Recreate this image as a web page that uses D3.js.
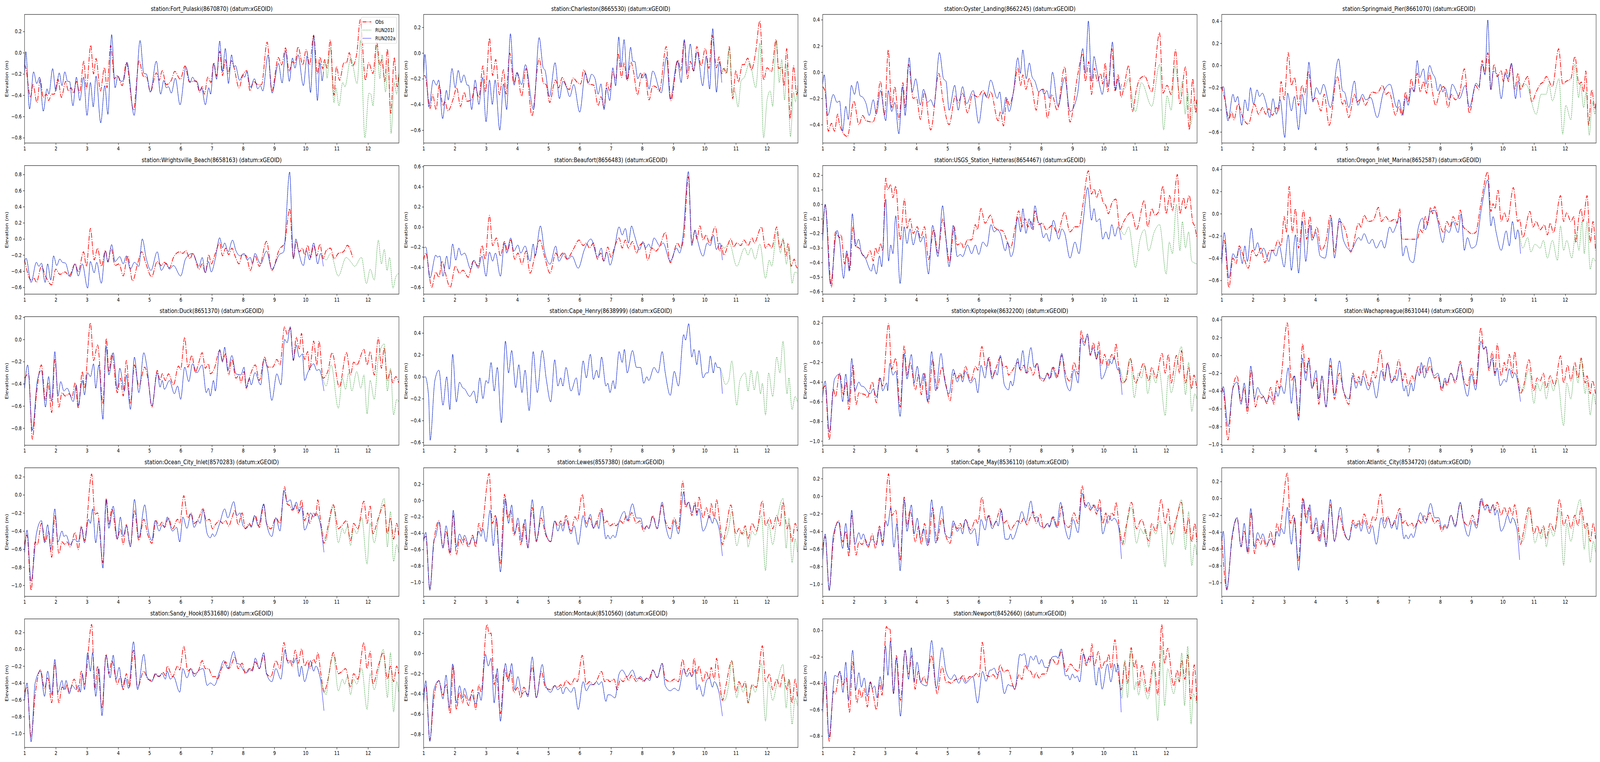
<!DOCTYPE html>
<html>
<head>
<meta charset="utf-8">
<script src="https://cdn.jsdelivr.net/npm/d3@7"></script>
<style>
  html, body { margin: 0; padding: 0; background: #fff; overflow: hidden; }
  #chart { display: block; width: 100vw; height: 100vh; }
  text { font-family: "DejaVu Sans", sans-serif; }
</style>
</head>
<body>
<svg id="chart" viewBox="0 0 5150 1950" preserveAspectRatio="none"></svg>
<script>
// ---- data: [day, elevation m] (peaks and troughs) ----
const fpObs = [[1.0,-0.11],[1.04,-0.145],[1.19,-0.42],[1.27,-0.30],[1.40,-0.47],[1.50,-0.25],[1.60,-0.42],[1.70,-0.39],[1.77,-0.45],[1.87,-0.39],[1.95,-0.39],[2.07,-0.25],[2.18,-0.42],[2.32,-0.27],[2.40,-0.36],[2.49,-0.33],[2.57,-0.38],[2.66,-0.27],[2.76,-0.375],[2.90,-0.08],[2.98,-0.34],[3.12,0.07],[3.21,-0.20],[3.29,-0.055],[3.43,-0.36],[3.56,-0.14],[3.64,-0.33],[3.76,0.07],[3.88,-0.245],[3.97,-0.215],[4.13,-0.31],[4.26,-0.095],[4.49,-0.54],[4.67,-0.075],[4.80,-0.22],[4.91,-0.23],[5.03,-0.37],[5.22,-0.19],[5.31,-0.26],[5.41,-0.17],[5.54,-0.30],[5.70,-0.26],[5.81,-0.175],[5.99,-0.25],[6.14,-0.125],[6.28,-0.275],[6.49,-0.265],[6.61,-0.37],[6.69,-0.32],[6.76,-0.39],[6.87,-0.23],[6.97,-0.28],[7.06,-0.095],[7.15,-0.22],[7.25,0.015],[7.34,-0.215],[7.43,-0.065],[7.52,-0.195],[7.62,-0.075],[7.70,-0.13],[7.87,-0.33],[7.99,-0.21],[8.12,-0.17],[8.22,-0.36],[8.34,-0.27],[8.47,-0.30],[8.59,-0.30],[8.77,0.10],[8.92,-0.36],[9.13,-0.045],[9.23,-0.115],[9.36,0.045],[9.47,-0.175],[9.58,-0.085],[9.66,-0.10],[9.76,0.055],[9.91,-0.115],[10.02,0.03],[10.13,-0.115],[10.26,0.165],[10.38,-0.20],[10.46,-0.04],[10.55,-0.15],[10.61,-0.065],[10.69,-0.145],[10.79,0.12],[10.91,-0.40],[10.99,-0.13],[11.09,-0.26],[11.23,-0.095],[11.31,-0.095],[11.40,0.0],[11.50,-0.125],[11.64,-0.01],[11.75,0.31],[11.92,-0.26],[12.02,-0.095],[12.16,-0.195],[12.28,0.10],[12.38,-0.12],[12.44,-0.065],[12.54,-0.27],[12.62,0.035],[12.73,-0.57],[12.84,-0.045],[12.93,-0.32],[12.99,-0.195]];
const fpRun202a = [[1.0,-0.19],[1.04,0.01],[1.16,-0.53],[1.29,-0.18],[1.39,-0.29],[1.48,-0.23],[1.60,-0.55],[1.72,-0.34],[1.78,-0.39],[1.90,-0.15],[2.0,-0.36],[2.11,-0.19],[2.20,-0.31],[2.29,-0.18],[2.38,-0.27],[2.44,-0.27],[2.55,-0.50],[2.66,-0.23],[2.77,-0.45],[2.89,-0.23],[3.00,-0.59],[3.11,-0.28],[3.20,-0.51],[3.29,-0.22],[3.44,-0.66],[3.57,-0.31],[3.67,-0.58],[3.79,0.17],[3.90,-0.33],[3.99,-0.22],[4.09,-0.27],[4.17,-0.26],[4.28,-0.09],[4.51,-0.59],[4.70,0.115],[4.82,-0.195],[4.90,-0.20],[5.03,-0.37],[5.22,-0.08],[5.36,-0.39],[5.46,-0.26],[5.54,-0.33],[5.61,-0.32],[5.70,-0.38],[5.83,-0.24],[5.98,-0.49],[6.17,-0.135],[6.30,-0.28],[6.38,-0.23],[6.47,-0.27],[6.53,-0.275],[6.61,-0.36],[6.67,-0.33],[6.79,-0.49],[6.90,-0.33],[6.96,-0.39],[7.06,-0.10],[7.15,-0.25],[7.25,0.11],[7.34,-0.18],[7.43,0.04],[7.53,-0.29],[7.63,-0.02],[7.71,-0.135],[7.75,-0.12],[7.89,-0.26],[7.99,-0.21],[8.05,-0.23],[8.12,-0.18],[8.24,-0.325],[8.36,-0.245],[8.47,-0.34],[8.55,-0.31],[8.63,-0.36],[8.80,-0.02],[8.93,-0.38],[9.13,-0.10],[9.25,-0.285],[9.36,0.02],[9.48,-0.27],[9.58,-0.05],[9.66,-0.145],[9.76,-0.02],[9.93,-0.31],[10.05,-0.03],[10.16,-0.375],[10.26,0.16],[10.38,-0.45],[10.46,-0.095],[10.53,-0.265],[10.57,-0.18]];
const fpTail201l = [[10.63,-0.08],[10.69,-0.24],[10.79,0.05],[10.91,-0.47],[10.97,-0.33],[11.07,-0.50],[11.19,-0.28],[11.26,-0.32],[11.45,-0.05],[11.65,-0.29],[11.76,0.115],[11.90,-0.80],[12.03,-0.38],[12.09,-0.39],[12.16,-0.50],[12.28,0.07],[12.38,-0.245],[12.45,-0.02],[12.56,-0.37],[12.65,-0.08],[12.74,-0.76],[12.84,-0.28],[12.92,-0.39],[12.99,-0.19]];

const chObs = [[1.0,-0.18],[1.04,-0.175],[1.21,-0.43],[1.29,-0.325],[1.40,-0.44],[1.50,-0.25],[1.62,-0.41],[1.68,-0.375],[1.78,-0.45],[1.95,-0.355],[2.06,-0.27],[2.18,-0.415],[2.30,-0.305],[2.39,-0.375],[2.53,-0.365],[2.65,-0.265],[2.77,-0.345],[2.90,-0.10],[2.98,-0.305],[3.11,0.115],[3.21,-0.175],[3.31,-0.05],[3.43,-0.325],[3.56,-0.13],[3.64,-0.32],[3.76,0.0],[3.89,-0.235],[3.99,-0.155],[4.14,-0.335],[4.28,-0.12],[4.47,-0.49],[4.70,-0.045],[4.84,-0.235],[4.92,-0.245],[5.04,-0.385],[5.17,-0.245],[5.22,-0.21],[5.33,-0.27],[5.44,-0.19],[5.58,-0.26],[5.66,-0.285],[5.79,-0.195],[5.93,-0.23],[6.03,-0.24],[6.13,-0.13],[6.28,-0.24],[6.45,-0.25],[6.59,-0.41],[6.68,-0.34],[6.78,-0.425],[6.87,-0.23],[6.96,-0.295],[7.06,-0.15],[7.15,-0.21],[7.23,-0.005],[7.34,-0.19],[7.42,-0.075],[7.52,-0.215],[7.64,-0.07],[7.72,-0.14],[7.85,-0.325],[7.95,-0.205],[8.08,-0.155],[8.22,-0.365],[8.34,-0.255],[8.47,-0.27],[8.55,-0.295],[8.77,0.05],[8.92,-0.37],[9.15,-0.055],[9.23,-0.14],[9.35,0.095],[9.45,-0.20],[9.54,-0.065],[9.65,-0.14],[9.75,0.05],[9.89,-0.10],[10.02,0.035],[10.14,-0.12],[10.24,0.14],[10.38,-0.115],[10.46,-0.03],[10.55,-0.16],[10.61,-0.12],[10.70,-0.16],[10.79,0.05],[10.90,-0.355],[11.00,-0.135],[11.08,-0.225],[11.21,-0.09],[11.27,-0.09],[11.38,-0.04],[11.50,-0.13],[11.63,0.0],[11.77,0.25],[11.89,-0.21],[12.00,-0.115],[12.14,-0.145],[12.29,0.105],[12.37,-0.12],[12.47,-0.11],[12.54,-0.255],[12.63,0.035],[12.74,-0.51],[12.85,-0.10],[12.95,-0.325],[12.98,-0.285]];
const chRun202a = [[1.0,-0.17],[1.04,-0.01],[1.17,-0.42],[1.31,-0.21],[1.41,-0.25],[1.48,-0.21],[1.61,-0.51],[1.73,-0.29],[1.79,-0.365],[1.91,-0.12],[2.01,-0.27],[2.11,-0.135],[2.20,-0.23],[2.29,-0.17],[2.40,-0.25],[2.44,-0.25],[2.54,-0.44],[2.65,-0.21],[2.77,-0.40],[2.89,-0.19],[3.00,-0.535],[3.11,-0.21],[3.20,-0.40],[3.29,-0.21],[3.44,-0.60],[3.56,-0.24],[3.66,-0.44],[3.78,0.15],[3.90,-0.25],[3.99,-0.15],[4.14,-0.245],[4.26,-0.09],[4.52,-0.44],[4.70,0.12],[4.83,-0.115],[4.89,-0.135],[5.03,-0.34],[5.21,-0.075],[5.35,-0.355],[5.46,-0.22],[5.58,-0.27],[5.68,-0.34],[5.81,-0.245],[6.00,-0.46],[6.18,-0.155],[6.28,-0.23],[6.38,-0.165],[6.49,-0.20],[6.59,-0.32],[6.68,-0.24],[6.78,-0.44],[6.86,-0.27],[6.96,-0.37],[7.06,-0.115],[7.15,-0.255],[7.25,0.125],[7.33,-0.11],[7.42,0.105],[7.52,-0.205],[7.63,0.045],[7.70,-0.065],[7.76,-0.065],[7.86,-0.20],[7.95,-0.155],[8.01,-0.195],[8.11,-0.16],[8.22,-0.28],[8.34,-0.14],[8.61,-0.31],[8.78,-0.03],[8.90,-0.36],[9.13,-0.06],[9.25,-0.23],[9.35,0.105],[9.43,-0.155],[9.54,0.07],[9.65,-0.14],[9.76,0.01],[9.94,-0.255],[10.05,-0.025],[10.16,-0.28],[10.26,0.19],[10.38,-0.305],[10.47,-0.07],[10.55,-0.23]];
const chTail201l = [[10.59,-0.14],[10.64,-0.115],[10.70,-0.155],[10.79,0.035],[10.90,-0.325],[10.97,-0.295],[11.07,-0.42],[11.17,-0.215],[11.27,-0.19],[11.44,-0.075],[11.64,-0.27],[11.77,0.075],[11.89,-0.66],[12.00,-0.365],[12.10,-0.295],[12.18,-0.415],[12.29,0.095],[12.39,-0.23],[12.47,-0.05],[12.56,-0.365],[12.64,-0.09],[12.75,-0.65],[12.85,-0.305],[12.91,-0.38],[12.98,-0.25]];

const olObs = [[1.0,-0.11],[1.08,-0.15],[1.18,-0.45],[1.28,-0.39],[1.38,-0.45],[1.48,-0.32],[1.54,-0.40],[1.79,-0.49],[2.00,-0.22],[2.16,-0.40],[2.28,-0.33],[2.39,-0.37],[2.61,-0.38],[2.72,-0.29],[2.85,-0.07],[2.98,-0.33],[3.10,0.17],[3.21,-0.27],[3.31,-0.11],[3.44,-0.36],[3.57,-0.08],[3.64,-0.27],[3.75,0.06],[3.90,-0.20],[4.00,-0.19],[4.13,-0.36],[4.26,-0.15],[4.46,-0.44],[4.72,-0.01],[4.85,-0.21],[5.05,-0.40],[5.25,-0.18],[5.34,-0.23],[5.48,-0.16],[5.64,-0.31],[5.80,-0.17],[5.97,-0.19],[6.13,-0.14],[6.30,-0.20],[6.38,-0.15],[6.62,-0.37],[6.69,-0.30],[6.79,-0.41],[6.90,-0.20],[6.98,-0.25],[7.11,-0.15],[7.25,0.03],[7.34,-0.10],[7.41,-0.02],[7.51,-0.13],[7.61,-0.05],[7.70,-0.11],[7.84,-0.29],[7.93,-0.15],[8.07,-0.13],[8.20,-0.35],[8.34,-0.17],[8.51,-0.29],[8.75,0.04],[8.92,-0.38],[9.16,-0.03],[9.33,0.14],[9.41,-0.07],[9.52,0.08],[9.61,-0.17],[9.70,0.03],[9.80,-0.07],[9.90,-0.01],[9.97,-0.09],[10.05,0.07],[10.13,-0.15],[10.26,0.18],[10.36,-0.14],[10.46,-0.02],[10.56,-0.19],[10.66,-0.10],[10.80,0.05],[10.92,-0.30],[11.05,-0.13],[11.16,-0.05],[11.31,-0.03],[11.54,-0.15],[11.79,0.30],[11.90,-0.16],[12.03,-0.10],[12.16,-0.17],[12.30,0.17],[12.44,-0.24],[12.62,0.04],[12.74,-0.44],[12.85,-0.05],[12.95,-0.31],[12.98,-0.21]];
const olRun202a = [[1.0,-0.09],[1.05,-0.02],[1.16,-0.33],[1.34,-0.17],[1.46,-0.23],[1.54,-0.22],[1.64,-0.45],[1.74,-0.26],[1.82,-0.36],[1.92,-0.10],[2.02,-0.17],[2.11,-0.07],[2.20,-0.18],[2.28,-0.19],[2.39,-0.24],[2.49,-0.33],[2.62,-0.21],[2.72,-0.32],[2.85,-0.14],[3.02,-0.37],[3.10,-0.14],[3.21,-0.30],[3.31,-0.23],[3.44,-0.47],[3.56,-0.11],[3.64,-0.33],[3.77,0.11],[3.87,-0.15],[3.98,-0.05],[4.13,-0.25],[4.23,-0.13],[4.36,-0.23],[4.46,-0.21],[4.56,-0.26],[4.74,0.15],[4.87,-0.05],[4.95,-0.07],[5.05,-0.29],[5.23,-0.10],[5.34,-0.29],[5.48,-0.11],[5.61,-0.24],[5.82,-0.14],[6.00,-0.39],[6.16,-0.16],[6.25,-0.19],[6.38,-0.06],[6.59,-0.20],[6.67,-0.15],[6.77,-0.32],[6.87,-0.19],[6.97,-0.30],[7.11,-0.15],[7.25,0.11],[7.33,-0.01],[7.41,0.17],[7.52,-0.05],[7.62,0.07],[7.70,-0.03],[7.80,-0.07],[7.92,-0.15],[8.02,-0.13],[8.10,-0.17],[8.18,-0.14],[8.26,-0.20],[8.36,0.0],[8.54,-0.26],[8.75,-0.04],[8.92,-0.30],[9.16,-0.17],[9.33,0.18],[9.41,-0.01],[9.51,0.39],[9.61,-0.07],[9.69,0.12],[9.77,0.03],[9.90,-0.13],[9.95,-0.17],[10.07,-0.03],[10.15,-0.11],[10.28,0.23],[10.38,-0.14],[10.46,-0.05],[10.52,-0.13],[10.57,-0.09]];
const olTail201l = [[10.66,-0.13],[10.79,-0.05],[11.02,-0.30],[11.21,-0.08],[11.54,-0.26],[11.79,0.06],[11.92,-0.44],[12.03,-0.18],[12.16,-0.29],[12.28,0.05],[12.44,-0.17],[12.52,-0.07],[12.61,-0.32],[12.69,-0.15],[12.79,-0.40],[12.89,-0.21],[12.98,-0.25]];

const spObs = [[1.0,-0.19],[1.10,-0.31],[1.23,-0.48],[1.33,-0.42],[1.39,-0.49],[1.52,-0.35],[1.69,-0.48],[1.85,-0.53],[2.05,-0.35],[2.18,-0.44],[2.31,-0.38],[2.41,-0.44],[2.51,-0.39],[2.62,-0.45],[2.75,-0.38],[2.82,-0.41],[2.90,-0.145],[3.00,-0.31],[3.13,0.115],[3.23,-0.18],[3.33,-0.11],[3.46,-0.36],[3.57,-0.18],[3.66,-0.26],[3.77,-0.05],[3.92,-0.31],[4.02,-0.29],[4.18,-0.41],[4.28,-0.26],[4.44,-0.54],[4.70,-0.10],[4.87,-0.35],[4.93,-0.31],[5.07,-0.47],[5.25,-0.26],[5.33,-0.33],[5.49,-0.29],[5.59,-0.36],[5.82,-0.24],[5.98,-0.25],[6.15,-0.18],[6.26,-0.26],[6.36,-0.24],[6.57,-0.45],[6.67,-0.37],[6.77,-0.45],[6.89,-0.24],[6.97,-0.33],[7.07,-0.12],[7.16,-0.23],[7.26,-0.07],[7.36,-0.24],[7.46,-0.145],[7.56,-0.25],[7.66,-0.07],[7.75,-0.24],[7.85,-0.36],[7.98,-0.24],[8.11,-0.19],[8.25,-0.38],[8.36,-0.26],[8.48,-0.31],[8.61,-0.26],[8.77,-0.03],[8.93,-0.43],[9.13,-0.18],[9.23,-0.22],[9.34,0.045],[9.43,-0.07],[9.52,0.115],[9.62,-0.22],[9.72,0.01],[9.82,-0.10],[9.95,-0.05],[10.02,-0.145],[10.11,-0.03],[10.18,-0.145],[10.28,0.01],[10.38,-0.22],[10.49,-0.07],[10.57,-0.22],[10.66,-0.17],[10.80,-0.10],[10.93,-0.33],[11.07,-0.24],[11.20,-0.17],[11.31,-0.145],[11.39,-0.10],[11.59,-0.19],[11.79,0.15],[11.92,-0.17],[12.02,-0.145],[12.18,-0.12],[12.31,0.08],[12.44,-0.17],[12.52,-0.15],[12.59,-0.24],[12.66,-0.05],[12.75,-0.54],[12.85,-0.22],[12.95,-0.39],[12.98,-0.33]];
const spRun202a = [[1.0,-0.22],[1.05,-0.19],[1.20,-0.50],[1.36,-0.26],[1.43,-0.33],[1.51,-0.28],[1.64,-0.54],[1.74,-0.31],[1.84,-0.41],[1.92,-0.20],[2.02,-0.35],[2.13,-0.22],[2.21,-0.28],[2.30,-0.25],[2.41,-0.33],[2.54,-0.47],[2.64,-0.30],[2.75,-0.44],[2.87,-0.31],[3.02,-0.65],[3.11,-0.25],[3.23,-0.41],[3.33,-0.28],[3.46,-0.58],[3.57,-0.26],[3.69,-0.44],[3.79,0.03],[3.92,-0.33],[4.03,-0.20],[4.15,-0.26],[4.26,-0.17],[4.48,-0.38],[4.74,0.06],[4.87,-0.23],[4.93,-0.24],[5.07,-0.38],[5.25,-0.14],[5.36,-0.36],[5.51,-0.26],[5.61,-0.31],[5.77,-0.29],[5.98,-0.47],[6.18,-0.24],[6.39,-0.17],[6.61,-0.38],[6.67,-0.31],[6.80,-0.45],[6.89,-0.28],[6.97,-0.36],[7.08,-0.20],[7.16,-0.24],[7.26,0.045],[7.34,-0.11],[7.46,-0.03],[7.54,-0.17],[7.66,0.0],[7.75,-0.07],[7.84,-0.12],[7.92,-0.23],[8.00,-0.17],[8.08,-0.24],[8.15,-0.20],[8.28,-0.31],[8.38,-0.17],[8.52,-0.24],[8.61,-0.30],[8.80,-0.18],[8.93,-0.38],[9.15,-0.16],[9.23,-0.19],[9.34,0.01],[9.43,-0.085],[9.52,0.41],[9.62,-0.22],[9.70,-0.05],[9.79,-0.07],[9.84,-0.09],[9.95,-0.30],[10.08,-0.07],[10.16,-0.12],[10.28,0.02],[10.41,-0.30],[10.49,-0.14],[10.57,-0.29]];
const spTail201l = [[10.64,-0.19],[10.74,-0.17],[11.07,-0.44],[11.23,-0.26],[11.39,-0.26],[11.48,-0.17],[11.59,-0.32],[11.80,-0.12],[11.92,-0.62],[12.02,-0.36],[12.18,-0.49],[12.31,0.01],[12.43,-0.29],[12.49,-0.17],[12.59,-0.38],[12.67,-0.24],[12.77,-0.63],[12.87,-0.33],[12.95,-0.44],[12.98,-0.36]];

const wbObs = [[1.0,-0.26],[1.21,-0.51],[1.31,-0.49],[1.38,-0.54],[1.54,-0.34],[1.67,-0.46],[1.87,-0.57],[2.00,-0.375],[2.13,-0.44],[2.30,-0.41],[2.43,-0.46],[2.62,-0.31],[2.72,-0.41],[2.89,-0.16],[2.98,-0.34],[3.11,0.13],[3.23,-0.26],[3.34,-0.115],[3.46,-0.34],[3.59,-0.145],[3.67,-0.28],[3.77,-0.115],[3.90,-0.33],[4.03,-0.31],[4.16,-0.46],[4.30,-0.21],[4.46,-0.52],[4.62,-0.31],[4.75,-0.16],[4.89,-0.31],[5.07,-0.47],[5.25,-0.28],[5.38,-0.33],[5.48,-0.29],[5.64,-0.36],[5.77,-0.23],[5.97,-0.16],[6.07,-0.18],[6.16,-0.145],[6.30,-0.245],[6.39,-0.18],[6.59,-0.375],[6.69,-0.31],[6.79,-0.42],[6.90,-0.195],[6.98,-0.31],[7.11,-0.18],[7.25,-0.05],[7.34,-0.21],[7.44,-0.115],[7.54,-0.195],[7.64,-0.115],[7.74,-0.21],[7.87,-0.31],[7.97,-0.195],[8.10,-0.21],[8.23,-0.39],[8.38,-0.21],[8.52,-0.34],[8.75,-0.03],[8.92,-0.39],[9.16,-0.13],[9.33,-0.05],[9.49,0.375],[9.61,-0.245],[9.70,-0.03],[9.80,-0.16],[9.90,-0.115],[9.97,-0.195],[10.07,-0.08],[10.16,-0.23],[10.26,-0.08],[10.36,-0.21],[10.46,-0.065],[10.56,-0.245],[10.66,-0.145],[10.80,-0.115],[10.92,-0.245],[11.05,-0.18],[11.21,-0.16],[11.34,-0.08],[11.51,-0.23]];
const wbRun202a = [[1.0,-0.28],[1.05,-0.24],[1.21,-0.54],[1.38,-0.29],[1.46,-0.34],[1.54,-0.30],[1.66,-0.54],[1.74,-0.31],[1.84,-0.51],[1.93,-0.21],[2.03,-0.33],[2.13,-0.25],[2.21,-0.29],[2.31,-0.30],[2.46,-0.47],[2.62,-0.31],[2.72,-0.46],[2.85,-0.31],[3.02,-0.61],[3.11,-0.28],[3.23,-0.42],[3.31,-0.29],[3.46,-0.55],[3.59,-0.15],[3.67,-0.29],[3.79,-0.07],[3.90,-0.28],[4.05,-0.22],[4.16,-0.31],[4.26,-0.21],[4.39,-0.375],[4.52,-0.29],[4.66,-0.34],[4.77,0.0],[4.90,-0.245],[5.05,-0.39],[5.25,-0.16],[5.38,-0.39],[5.54,-0.30],[5.64,-0.375],[5.77,-0.33],[6.00,-0.46],[6.16,-0.245],[6.38,-0.18],[6.59,-0.34],[6.69,-0.23],[6.79,-0.42],[6.89,-0.28],[6.98,-0.41],[7.11,-0.245],[7.25,0.015],[7.34,-0.11],[7.41,-0.05],[7.52,-0.16],[7.66,-0.015],[7.77,-0.145],[7.90,-0.21],[8.03,-0.18],[8.13,-0.26],[8.23,-0.23],[8.30,-0.31],[8.38,-0.18],[8.56,-0.31],[8.75,-0.15],[8.92,-0.375],[9.16,-0.195],[9.30,-0.16],[9.49,0.83],[9.61,-0.245],[9.69,0.0],[9.77,-0.145],[9.93,-0.33],[10.03,-0.145],[10.13,-0.26],[10.26,-0.05],[10.39,-0.31],[10.48,-0.18],[10.57,-0.34]];
const wbTail201l = [[10.66,-0.26],[10.80,-0.18],[11.05,-0.46],[11.30,-0.23],[11.46,-0.29],[11.57,-0.34],[11.79,-0.23],[11.95,-0.555],[12.07,-0.375],[12.20,-0.51],[12.33,-0.015],[12.43,-0.31],[12.52,-0.13],[12.61,-0.39],[12.69,-0.23],[12.80,-0.61],[12.89,-0.47],[12.98,-0.43]];

const bfObs = [[1.0,-0.33],[1.07,-0.26],[1.26,-0.60],[1.39,-0.45],[1.49,-0.50],[1.59,-0.34],[1.69,-0.45],[1.85,-0.60],[2.02,-0.39],[2.15,-0.46],[2.26,-0.43],[2.43,-0.50],[2.59,-0.34],[2.75,-0.39],[2.87,-0.185],[2.97,-0.32],[3.11,0.115],[3.21,-0.185],[3.33,-0.11],[3.46,-0.29],[3.59,-0.145],[3.69,-0.24],[3.79,-0.13],[3.92,-0.32],[4.02,-0.26],[4.15,-0.37],[4.28,-0.24],[4.41,-0.46],[4.57,-0.28],[4.72,-0.13],[4.87,-0.29],[5.05,-0.46],[5.23,-0.26],[5.33,-0.30],[5.46,-0.26],[5.59,-0.32],[5.79,-0.225],[5.98,-0.13],[6.11,-0.185],[6.21,-0.16],[6.31,-0.21],[6.44,-0.16],[6.57,-0.32],[6.67,-0.26],[6.77,-0.34],[6.90,-0.20],[7.00,-0.30],[7.13,-0.185],[7.26,-0.11],[7.36,-0.21],[7.46,-0.13],[7.56,-0.21],[7.69,-0.145],[7.82,-0.26],[7.92,-0.185],[8.05,-0.16],[8.18,-0.33],[8.31,-0.21],[8.44,-0.24],[8.57,-0.185],[8.74,-0.055],[8.90,-0.355],[9.13,-0.16],[9.23,-0.21],[9.33,-0.11],[9.48,0.50],[9.59,-0.16],[9.69,-0.04],[9.75,-0.12],[9.85,0.01],[9.95,-0.13],[10.05,-0.08],[10.15,-0.16],[10.34,0.0],[10.48,-0.24],[10.54,-0.185],[10.61,-0.28],[10.84,-0.12],[10.93,-0.20],[11.03,-0.16],[11.16,-0.185],[11.26,-0.13],[11.39,-0.185],[11.52,-0.11],[11.59,-0.16],[11.82,0.0],[11.95,-0.21],[12.05,-0.17],[12.15,-0.21],[12.31,0.0],[12.41,-0.21],[12.51,-0.13],[12.61,-0.29],[12.67,-0.16],[12.77,-0.39],[12.87,-0.32],[12.93,-0.39],[12.97,-0.41]];
const bfRun202a = [[1.0,-0.21],[1.07,-0.20],[1.20,-0.51],[1.39,-0.28],[1.44,-0.30],[1.52,-0.29],[1.62,-0.49],[1.74,-0.29],[1.82,-0.42],[1.93,-0.17],[2.03,-0.33],[2.13,-0.21],[2.21,-0.28],[2.31,-0.26],[2.51,-0.42],[2.61,-0.33],[2.75,-0.41],[2.87,-0.29],[3.00,-0.49],[3.11,-0.25],[3.21,-0.34],[3.30,-0.26],[3.46,-0.49],[3.59,-0.16],[3.66,-0.26],[3.79,-0.11],[3.89,-0.24],[4.02,-0.18],[4.11,-0.26],[4.25,-0.19],[4.41,-0.34],[4.51,-0.17],[4.57,-0.29],[4.74,0.01],[4.87,-0.24],[5.05,-0.37],[5.23,-0.19],[5.33,-0.34],[5.51,-0.26],[5.62,-0.32],[5.75,-0.29],[5.95,-0.41],[6.15,-0.225],[6.36,-0.12],[6.57,-0.30],[6.69,-0.21],[6.77,-0.34],[6.87,-0.25],[6.97,-0.38],[7.10,-0.24],[7.26,0.0],[7.36,-0.08],[7.46,-0.015],[7.56,-0.16],[7.66,0.01],[7.75,-0.08],[7.92,-0.225],[8.02,-0.145],[8.11,-0.21],[8.21,-0.17],[8.28,-0.21],[8.38,-0.11],[8.57,-0.19],[8.67,-0.16],[8.90,-0.34],[9.10,-0.21],[9.20,-0.26],[9.31,-0.08],[9.48,0.55],[9.59,-0.185],[9.69,-0.03],[9.77,-0.13],[9.95,-0.29],[10.08,-0.16],[10.18,-0.185],[10.28,-0.08],[10.38,-0.225],[10.48,-0.16],[10.57,-0.33]];
const bfTail201l = [[10.64,-0.21],[10.79,-0.16],[11.03,-0.39],[11.28,-0.21],[11.39,-0.28],[11.49,-0.21],[11.62,-0.32],[11.77,-0.17],[11.95,-0.51],[12.07,-0.33],[12.15,-0.39],[12.31,-0.055],[12.43,-0.26],[12.51,-0.11],[12.62,-0.37],[12.70,-0.21],[12.80,-0.56],[12.89,-0.45],[12.97,-0.46]];

const htObs = [[1.0,-0.20],[1.08,-0.005],[1.28,-0.57],[1.41,-0.19],[1.54,-0.23],[1.59,-0.21],[1.70,-0.41],[1.79,-0.34],[1.87,-0.45],[1.97,-0.155],[2.07,-0.29],[2.16,-0.30],[2.30,-0.355],[2.39,-0.37],[2.52,-0.32],[2.62,-0.39],[2.69,-0.30],[2.77,-0.34],[2.85,-0.27],[2.92,-0.32],[3.02,0.18],[3.08,0.10],[3.18,0.135],[3.25,0.045],[3.34,0.125],[3.48,-0.245],[3.62,0.035],[3.70,-0.165],[3.80,-0.10],[3.90,-0.20],[4.03,-0.155],[4.13,-0.235],[4.26,-0.155],[4.39,-0.38],[4.56,-0.175],[4.69,-0.335],[4.85,-0.10],[4.95,-0.245],[5.07,-0.40],[5.21,-0.155],[5.31,-0.28],[5.44,-0.265],[5.51,-0.30],[5.64,-0.245],[5.77,-0.245],[5.89,-0.14],[5.95,-0.175],[6.07,-0.03],[6.20,-0.13],[6.38,-0.075],[6.49,-0.155],[6.62,-0.175],[6.75,-0.18],[7.02,-0.30],[7.15,-0.175],[7.28,-0.045],[7.38,-0.155],[7.48,-0.10],[7.57,-0.155],[7.67,-0.12],[7.74,-0.175],[7.80,-0.045],[7.93,-0.14],[8.03,-0.13],[8.16,-0.175],[8.36,-0.145],[8.52,-0.20],[8.75,-0.055],[8.92,-0.19],[9.08,-0.155],[9.21,-0.155],[9.33,-0.01],[9.51,0.23],[9.61,0.07],[9.70,0.105],[9.77,0.045],[9.87,0.10],[9.98,0.015],[10.07,-0.01],[10.15,-0.065],[10.26,0.007],[10.39,0.035],[10.52,-0.175],[10.64,-0.12],[10.89,-0.055],[11.05,-0.175],[11.30,0.025],[11.41,-0.155],[11.54,-0.03],[11.64,-0.075],[11.75,-0.055],[11.90,0.125],[12.00,-0.065],[12.11,0.06],[12.20,-0.045],[12.36,0.205],[12.44,-0.065],[12.56,0.045],[12.62,-0.03],[12.74,0.06],[12.85,-0.12],[12.92,-0.155],[12.98,-0.23]];
const htRun202a = [[1.0,-0.25],[1.08,0.0],[1.25,-0.55],[1.46,-0.18],[1.54,-0.25],[1.67,-0.51],[1.77,-0.32],[1.85,-0.46],[1.95,-0.065],[2.05,-0.29],[2.15,-0.24],[2.25,-0.34],[2.33,-0.355],[2.56,-0.46],[2.62,-0.41],[2.72,-0.48],[2.82,-0.355],[2.89,-0.43],[3.02,0.035],[3.11,-0.39],[3.18,-0.28],[3.25,-0.34],[3.34,-0.08],[3.48,-0.545],[3.61,-0.155],[3.70,-0.27],[3.80,-0.17],[3.90,-0.28],[4.03,-0.18],[4.13,-0.26],[4.23,-0.22],[4.39,-0.48],[4.52,-0.145],[4.69,-0.36],[4.84,-0.01],[4.92,-0.17],[5.05,-0.43],[5.18,-0.145],[5.31,-0.36],[5.41,-0.345],[5.48,-0.36],[5.64,-0.28],[5.77,-0.34],[5.89,-0.28],[6.00,-0.345],[6.13,-0.26],[6.26,-0.29],[6.39,-0.14],[6.49,-0.19],[6.59,-0.175],[6.69,-0.20],[6.85,-0.32],[6.92,-0.26],[7.03,-0.36],[7.11,-0.32],[7.25,-0.09],[7.34,-0.19],[7.41,-0.03],[7.51,-0.20],[7.61,-0.10],[7.70,-0.17],[7.80,-0.01],[7.90,-0.12],[7.97,-0.14],[8.07,-0.23],[8.16,-0.20],[8.26,-0.255],[8.39,-0.11],[8.56,-0.24],[8.66,-0.17],[8.75,-0.20],[8.92,-0.37],[9.08,-0.26],[9.21,-0.34],[9.33,-0.14],[9.49,0.115],[9.61,-0.11],[9.69,-0.03],[9.77,-0.12],[9.87,-0.10],[9.97,-0.24],[10.07,-0.19],[10.16,-0.24],[10.26,-0.14],[10.36,-0.22],[10.46,-0.155],[10.56,-0.245]];
const htTail201l = [[10.66,-0.21],[10.80,-0.155],[11.02,-0.435],[11.16,-0.245],[11.31,-0.175],[11.44,-0.32],[11.62,-0.19],[11.79,-0.14],[12.00,-0.48],[12.10,-0.26],[12.20,-0.34],[12.33,0.0],[12.44,-0.32],[12.52,-0.12],[12.62,-0.30],[12.72,-0.19],[12.82,-0.39],[12.98,-0.41]];

const oiObs = [[1.0,-0.40],[1.08,-0.24],[1.23,-0.665],[1.36,-0.40],[1.46,-0.45],[1.56,-0.29],[1.69,-0.38],[1.85,-0.49],[1.98,-0.33],[2.11,-0.38],[2.25,-0.31],[2.38,-0.44],[2.54,-0.33],[2.67,-0.33],[2.80,-0.24],[2.90,-0.29],[3.00,-0.026],[3.07,-0.17],[3.16,0.245],[3.26,-0.17],[3.36,0.045],[3.46,-0.31],[3.62,0.03],[3.72,-0.23],[3.82,-0.026],[3.92,-0.215],[4.05,-0.12],[4.18,-0.33],[4.34,-0.24],[4.48,-0.014],[4.61,-0.345],[4.77,-0.07],[4.97,-0.155],[5.13,-0.345],[5.39,-0.085],[5.46,-0.12],[5.56,-0.014],[5.69,-0.07],[5.85,-0.06],[6.02,0.057],[6.11,-0.07],[6.25,-0.026],[6.38,-0.07],[6.54,-0.05],[6.62,-0.085],[6.70,0.045],[6.77,-0.23],[7.26,-0.23],[7.36,-0.145],[7.43,-0.17],[7.52,-0.026],[7.59,-0.10],[7.69,0.057],[7.75,0.0],[7.82,0.063],[7.95,-0.07],[8.11,-0.17],[8.21,-0.07],[8.31,-0.12],[8.41,-0.026],[8.54,-0.10],[8.64,0.033],[8.74,-0.12],[8.84,-0.145],[9.00,-0.18],[9.13,-0.17],[9.30,0.09],[9.52,0.375],[9.62,0.02],[9.69,0.09],[9.75,0.045],[9.85,0.21],[9.95,-0.07],[10.05,0.01],[10.15,-0.07],[10.34,0.235],[10.48,-0.07],[10.54,-0.05],[10.64,-0.215],[10.87,0.02],[10.97,-0.12],[11.07,-0.07],[11.20,-0.145],[11.33,-0.10],[11.43,-0.19],[11.52,-0.085],[11.62,-0.17],[11.85,0.163],[11.95,-0.07],[12.05,0.01],[12.18,-0.07],[12.28,-0.026],[12.34,-0.26],[12.44,-0.026],[12.51,0.045],[12.57,-0.07],[12.70,0.163],[12.80,-0.26],[12.89,-0.07],[12.97,-0.33]];
const oiRun202a = [[1.0,-0.45],[1.08,-0.17],[1.23,-0.58],[1.36,-0.36],[1.46,-0.40],[1.56,-0.31],[1.66,-0.45],[1.74,-0.29],[1.82,-0.43],[1.95,-0.13],[2.05,-0.33],[2.15,-0.26],[2.25,-0.36],[2.34,-0.31],[2.51,-0.43],[2.61,-0.33],[2.74,-0.38],[2.84,-0.29],[3.00,-0.48],[3.13,-0.19],[3.23,-0.51],[3.36,-0.19],[3.46,-0.535],[3.59,-0.07],[3.69,-0.43],[3.82,-0.10],[3.89,-0.24],[4.02,-0.17],[4.15,-0.38],[4.31,-0.40],[4.51,-0.04],[4.61,-0.40],[4.77,-0.04],[4.90,-0.24],[5.13,-0.33],[5.39,-0.215],[5.46,-0.24],[5.56,-0.18],[5.72,-0.27],[5.82,-0.23],[5.95,-0.31],[6.11,-0.24],[6.21,-0.31],[6.38,-0.12],[6.48,-0.17],[6.57,-0.12],[6.70,-0.026],[6.80,-0.38],[6.90,-0.29],[7.03,-0.42],[7.13,-0.44],[7.30,-0.12],[7.43,-0.04],[7.52,-0.145],[7.69,0.02],[7.82,0.03],[7.92,-0.07],[8.08,-0.26],[8.18,-0.145],[8.28,-0.17],[8.41,-0.07],[8.57,-0.17],[8.67,0.0],[8.77,-0.33],[8.87,-0.215],[9.00,-0.31],[9.13,-0.29],[9.33,0.07],[9.52,0.305],[9.62,-0.11],[9.69,-0.026],[9.79,-0.17],[9.95,-0.33],[10.11,-0.155],[10.21,-0.29],[10.31,-0.07],[10.41,-0.23],[10.48,-0.145],[10.57,-0.36]];
const oiTail201l = [[10.64,-0.31],[10.80,-0.215],[10.90,-0.345],[11.03,-0.275],[11.20,-0.31],[11.30,-0.24],[11.43,-0.40],[11.59,-0.24],[11.75,-0.42],[11.85,-0.11],[11.95,-0.33],[12.05,-0.24],[12.21,-0.40],[12.34,-0.17],[12.44,-0.33],[12.54,-0.07],[12.61,-0.36],[12.70,-0.07],[12.80,-0.50],[12.89,-0.40],[12.97,-0.43]];

const dkObs = [[1.0,-0.35],[1.13,-0.31],[1.25,-0.90],[1.38,-0.50],[1.54,-0.23],[1.67,-0.55],[1.75,-0.39],[1.87,-0.66],[1.97,-0.18],[2.10,-0.61],[2.20,-0.48],[2.30,-0.51],[2.43,-0.49],[2.52,-0.525],[2.62,-0.39],[2.72,-0.62],[2.85,-0.29],[2.92,-0.44],[3.11,0.15],[3.21,-0.19],[3.34,-0.05],[3.51,-0.58],[3.62,0.01],[3.70,-0.29],[3.80,-0.13],[3.97,-0.48],[4.07,-0.35],[4.16,-0.51],[4.26,-0.19],[4.39,-0.58],[4.52,-0.23],[4.66,-0.42],[4.85,-0.25],[4.95,-0.35],[5.08,-0.61],[5.25,-0.28],[5.34,-0.37],[5.41,-0.31],[5.51,-0.37],[5.61,-0.31],[5.77,-0.41],[5.93,-0.24],[6.00,-0.27],[6.13,0.02],[6.23,-0.25],[6.36,-0.145],[6.47,-0.30],[6.56,-0.23],[6.69,-0.12],[6.79,-0.26],[6.89,-0.22],[6.95,-0.31],[7.08,-0.26],[7.25,-0.10],[7.34,-0.19],[7.44,-0.13],[7.54,-0.32],[7.64,-0.18],[7.77,-0.35],[7.87,-0.32],[7.93,-0.39],[8.03,-0.29],[8.10,-0.44],[8.23,-0.32],[8.39,-0.23],[8.52,-0.37],[8.69,-0.16],[8.79,-0.25],[8.95,-0.25],[9.08,-0.18],[9.18,-0.23],[9.33,0.115],[9.41,0.045],[9.51,0.10],[9.61,-0.19],[9.70,0.02],[9.80,-0.085],[9.87,0.055],[9.97,-0.18],[10.07,-0.11],[10.13,-0.28],[10.26,-0.015],[10.36,-0.23],[10.43,-0.015],[10.56,-0.35],[10.72,-0.28],[10.85,-0.12],[11.08,-0.43],[11.31,-0.12],[11.44,-0.32],[11.54,-0.205],[11.64,-0.23],[11.87,-0.09],[11.97,-0.23],[12.07,-0.11],[12.20,-0.32],[12.33,0.015],[12.43,-0.26],[12.52,-0.075],[12.62,-0.37],[12.72,-0.28],[12.79,-0.39],[12.89,-0.335],[12.98,-0.39]];
const dkRun202a = [[1.0,-0.44],[1.10,-0.23],[1.25,-0.82],[1.41,-0.37],[1.54,-0.28],[1.67,-0.61],[1.77,-0.335],[1.87,-0.56],[1.97,-0.11],[2.07,-0.51],[2.16,-0.38],[2.26,-0.465],[2.36,-0.44],[2.56,-0.56],[2.66,-0.41],[2.72,-0.60],[2.85,-0.37],[2.92,-0.50],[3.02,-0.30],[3.11,-0.335],[3.21,-0.22],[3.28,-0.44],[3.38,-0.23],[3.51,-0.72],[3.61,-0.06],[3.70,-0.32],[3.84,-0.12],[3.97,-0.45],[4.05,-0.26],[4.20,-0.465],[4.26,-0.32],[4.39,-0.63],[4.52,-0.16],[4.66,-0.48],[4.82,-0.12],[4.92,-0.25],[5.08,-0.60],[5.25,-0.30],[5.34,-0.43],[5.41,-0.37],[5.48,-0.45],[5.64,-0.37],[5.80,-0.49],[5.90,-0.42],[6.00,-0.54],[6.13,-0.25],[6.26,-0.38],[6.38,-0.22],[6.52,-0.30],[6.69,-0.23],[6.82,-0.48],[6.89,-0.44],[6.95,-0.51],[7.05,-0.37],[7.11,-0.465],[7.25,-0.09],[7.34,-0.205],[7.41,-0.07],[7.51,-0.28],[7.64,-0.145],[7.77,-0.31],[7.93,-0.32],[8.03,-0.25],[8.10,-0.43],[8.20,-0.35],[8.26,-0.41],[8.38,-0.30],[8.56,-0.41],[8.67,-0.18],[8.79,-0.28],[8.92,-0.55],[9.08,-0.31],[9.21,-0.41],[9.33,0.0],[9.41,-0.03],[9.51,0.115],[9.61,-0.19],[9.70,-0.05],[9.80,-0.16],[9.90,-0.13],[9.97,-0.37],[10.07,-0.30],[10.16,-0.25],[10.26,-0.22],[10.36,-0.28],[10.43,-0.27],[10.59,-0.465]];
const dkTail201l = [[10.66,-0.42],[10.82,-0.23],[11.05,-0.62],[11.18,-0.35],[11.28,-0.45],[11.38,-0.30],[11.48,-0.465],[11.64,-0.29],[11.77,-0.44],[11.87,-0.32],[11.97,-0.67],[12.07,-0.37],[12.20,-0.54],[12.33,-0.17],[12.52,-0.04],[12.62,-0.465],[12.72,-0.26],[12.82,-0.68],[12.92,-0.54],[12.98,-0.56]];

const cpRun202a = [[1.0,-0.01],[1.05,0.0],[1.16,-0.18],[1.21,-0.58],[1.36,-0.035],[1.49,0.06],[1.62,-0.26],[1.74,0.0],[1.84,-0.30],[1.93,0.205],[2.05,-0.23],[2.15,-0.05],[2.25,-0.10],[2.31,-0.11],[2.48,-0.18],[2.61,-0.13],[2.70,-0.24],[2.80,-0.01],[2.90,-0.20],[3.00,-0.035],[3.07,-0.06],[3.16,0.13],[3.26,-0.13],[3.36,0.085],[3.49,-0.42],[3.62,0.325],[3.72,0.035],[3.82,0.24],[3.95,-0.10],[4.05,0.11],[4.15,-0.145],[4.25,0.06],[4.38,-0.31],[4.51,0.23],[4.64,-0.145],[4.80,0.24],[4.93,-0.025],[5.07,-0.23],[5.20,0.155],[5.30,-0.085],[5.39,-0.01],[5.46,-0.085],[5.56,0.085],[5.72,-0.13],[5.89,-0.01],[5.98,-0.17],[6.11,0.145],[6.21,-0.01],[6.34,0.205],[6.44,-0.025],[6.54,0.06],[6.61,-0.01],[6.70,0.18],[6.84,-0.085],[6.90,-0.06],[6.97,-0.145],[7.07,-0.035],[7.13,-0.11],[7.26,0.23],[7.36,0.13],[7.43,0.25],[7.52,0.035],[7.69,0.24],[7.82,0.085],[7.95,0.085],[8.05,-0.06],[8.15,0.0],[8.21,-0.035],[8.38,0.085],[8.51,0.035],[8.64,0.23],[8.74,0.035],[8.90,-0.17],[9.03,0.05],[9.16,-0.085],[9.33,0.385],[9.39,0.335],[9.49,0.485],[9.59,0.18],[9.66,0.25],[9.75,0.11],[9.82,0.24],[9.95,-0.01],[10.05,0.035],[10.11,0.035],[10.18,0.19],[10.28,0.035],[10.34,0.13],[10.41,0.085],[10.48,0.085],[10.57,-0.155]];
const cpTail201l = [[10.67,-0.07],[10.77,-0.035],[10.87,0.145],[11.03,-0.26],[11.13,-0.035],[11.30,0.035],[11.39,-0.13],[11.49,0.06],[11.59,-0.12],[11.69,0.05],[11.79,-0.155],[11.85,-0.06],[11.95,-0.35],[12.05,0.035],[12.18,-0.18],[12.31,0.18],[12.41,0.035],[12.51,0.325],[12.64,-0.155],[12.70,-0.01],[12.80,-0.30],[12.90,-0.18],[12.97,-0.23]];

const kpObs = [[1.0,-0.47],[1.08,-0.44],[1.21,-0.99],[1.34,-0.47],[1.41,-0.55],[1.54,-0.31],[1.67,-0.53],[1.75,-0.40],[1.84,-0.68],[1.97,-0.23],[2.07,-0.63],[2.16,-0.51],[2.26,-0.52],[2.36,-0.53],[2.43,-0.56],[2.59,-0.40],[2.72,-0.61],[2.82,-0.36],[2.92,-0.44],[3.11,0.195],[3.21,-0.27],[3.34,-0.16],[3.48,-0.655],[3.61,-0.03],[3.70,-0.33],[3.80,-0.20],[3.97,-0.48],[4.07,-0.32],[4.16,-0.53],[4.26,-0.31],[4.39,-0.615],[4.52,-0.17],[4.66,-0.47],[4.82,-0.25],[4.95,-0.43],[5.08,-0.59],[5.21,-0.31],[5.31,-0.36],[5.41,-0.31],[5.48,-0.36],[5.57,-0.24],[5.74,-0.39],[5.90,-0.24],[5.97,-0.28],[6.10,-0.04],[6.23,-0.27],[6.33,-0.15],[6.43,-0.35],[6.56,-0.25],[6.69,-0.15],[6.79,-0.25],[6.89,-0.24],[6.95,-0.33],[7.08,-0.28],[7.25,-0.20],[7.34,-0.28],[7.44,-0.23],[7.54,-0.31],[7.64,-0.25],[7.74,-0.33],[7.87,-0.21],[7.95,-0.36],[8.07,-0.39],[8.20,-0.31],[8.29,-0.36],[8.39,-0.25],[8.52,-0.35],[8.66,-0.13],[8.79,-0.33],[8.92,-0.39],[9.05,-0.20],[9.18,-0.32],[9.28,0.12],[9.38,0.0],[9.48,0.07],[9.57,-0.13],[9.67,0.0],[9.77,-0.17],[9.84,0.01],[9.93,-0.23],[10.03,-0.12],[10.13,-0.25],[10.26,-0.12],[10.33,-0.17],[10.39,-0.01],[10.49,-0.28],[10.59,-0.41],[10.72,-0.375],[10.85,-0.16],[11.02,-0.41],[11.11,-0.36],[11.28,-0.21],[11.44,-0.39],[11.54,-0.25],[11.67,-0.36],[11.87,-0.11],[11.97,-0.31],[12.07,-0.12],[12.16,-0.41],[12.33,-0.13],[12.43,-0.31],[12.49,-0.08],[12.62,-0.41],[12.72,-0.25],[12.82,-0.47],[12.89,-0.33],[12.98,-0.47]];
const kpRun202a = [[1.0,-0.55],[1.08,-0.39],[1.21,-0.91],[1.38,-0.37],[1.54,-0.32],[1.64,-0.60],[1.74,-0.32],[1.84,-0.60],[1.93,-0.16],[2.03,-0.49],[2.16,-0.40],[2.23,-0.44],[2.30,-0.445],[2.52,-0.52],[2.62,-0.47],[2.72,-0.55],[2.85,-0.36],[2.92,-0.49],[3.05,-0.41],[3.08,-0.49],[3.15,-0.21],[3.25,-0.33],[3.34,-0.29],[3.48,-0.75],[3.61,-0.11],[3.70,-0.37],[3.84,-0.12],[3.93,-0.41],[4.03,-0.24],[4.13,-0.44],[4.23,-0.31],[4.36,-0.60],[4.49,-0.09],[4.62,-0.49],[4.79,-0.11],[4.89,-0.35],[5.05,-0.52],[5.18,-0.27],[5.31,-0.40],[5.41,-0.33],[5.48,-0.40],[5.57,-0.29],[5.74,-0.41],[5.87,-0.36],[5.97,-0.51],[6.07,-0.23],[6.20,-0.36],[6.30,-0.16],[6.43,-0.37],[6.52,-0.28],[6.59,-0.33],[6.69,-0.13],[6.82,-0.43],[6.95,-0.48],[7.02,-0.39],[7.08,-0.44],[7.25,-0.16],[7.31,-0.27],[7.41,-0.08],[7.51,-0.31],[7.67,-0.05],[7.77,-0.25],[7.87,-0.21],[7.97,-0.35],[8.10,-0.37],[8.20,-0.32],[8.26,-0.37],[8.36,-0.25],[8.49,-0.36],[8.66,-0.11],[8.75,-0.33],[8.92,-0.49],[9.05,-0.27],[9.18,-0.41],[9.28,0.05],[9.38,-0.03],[9.48,0.09],[9.57,-0.12],[9.67,-0.05],[9.77,-0.17],[9.84,-0.09],[9.93,-0.37],[10.07,-0.28],[10.16,-0.17],[10.26,-0.215],[10.33,-0.15],[10.46,-0.28],[10.49,-0.255],[10.59,-0.53]];
const kpTail201l = [[10.66,-0.41],[10.85,-0.16],[10.98,-0.56],[11.11,-0.31],[11.21,-0.36],[11.31,-0.23],[11.41,-0.52],[11.54,-0.31],[11.67,-0.41],[11.77,-0.27],[11.97,-0.74],[12.07,-0.33],[12.16,-0.51],[12.33,-0.25],[12.49,-0.04],[12.62,-0.53],[12.72,-0.20],[12.82,-0.70],[12.92,-0.52],[12.98,-0.57]];

const wcObs = [[1.0,-0.37],[1.05,-0.40],[1.20,-0.95],[1.33,-0.43],[1.49,-0.23],[1.62,-0.52],[1.72,-0.36],[1.82,-0.65],[1.95,-0.17],[2.08,-0.58],[2.18,-0.45],[2.28,-0.48],[2.34,-0.46],[2.44,-0.54],[2.57,-0.36],[2.67,-0.55],[2.77,-0.285],[2.84,-0.37],[3.10,0.365],[3.23,-0.285],[3.33,-0.23],[3.46,-0.68],[3.59,0.13],[3.69,-0.20],[3.79,-0.03],[3.89,-0.37],[4.02,-0.255],[4.11,-0.55],[4.21,-0.23],[4.34,-0.58],[4.48,-0.11],[4.61,-0.49],[4.77,-0.20],[4.90,-0.40],[5.07,-0.55],[5.20,-0.20],[5.30,-0.31],[5.39,-0.24],[5.46,-0.31],[5.56,-0.17],[5.72,-0.34],[5.85,-0.18],[5.92,-0.255],[6.08,0.055],[6.21,-0.255],[6.31,-0.08],[6.44,-0.285],[6.54,-0.255],[6.67,-0.05],[6.80,-0.285],[6.87,-0.20],[6.97,-0.34],[7.10,-0.23],[7.16,-0.285],[7.30,-0.12],[7.39,-0.20],[7.49,-0.11],[7.56,-0.20],[7.66,-0.12],[7.82,-0.255],[7.92,-0.23],[8.05,-0.40],[8.15,-0.285],[8.21,-0.34],[8.34,-0.20],[8.48,-0.31],[8.64,-0.065],[8.74,-0.255],[8.87,-0.34],[9.00,-0.14],[9.13,-0.34],[9.30,0.31],[9.39,0.07],[9.46,0.10],[9.56,-0.17],[9.66,0.04],[9.75,-0.20],[9.82,0.13],[9.95,-0.23],[10.05,-0.08],[10.11,-0.17],[10.21,0.01],[10.31,-0.20],[10.38,0.04],[10.48,-0.255],[10.57,-0.43],[10.67,-0.34],[10.84,-0.05],[11.00,-0.40],[11.10,-0.255],[11.20,-0.285],[11.30,-0.20],[11.39,-0.37],[11.52,-0.23],[11.66,-0.34],[11.85,-0.005],[11.95,-0.31],[12.08,-0.11],[12.18,-0.285],[12.31,-0.08],[12.41,-0.255],[12.51,-0.03],[12.64,-0.31],[12.70,-0.23],[12.80,-0.43],[12.87,-0.285],[12.97,-0.43]];
const wcRun202a = [[1.0,-0.43],[1.05,-0.35],[1.20,-0.80],[1.36,-0.37],[1.49,-0.30],[1.62,-0.55],[1.72,-0.31],[1.82,-0.595],[1.93,-0.12],[2.05,-0.49],[2.15,-0.36],[2.25,-0.43],[2.31,-0.45],[2.44,-0.52],[2.54,-0.46],[2.64,-0.51],[2.74,-0.40],[2.80,-0.46],[2.90,-0.34],[3.00,-0.43],[3.13,-0.14],[3.23,-0.54],[3.33,-0.23],[3.46,-0.73],[3.59,-0.03],[3.69,-0.285],[3.79,-0.06],[3.89,-0.37],[4.02,-0.17],[4.11,-0.49],[4.21,-0.23],[4.34,-0.58],[4.48,-0.03],[4.61,-0.45],[4.77,-0.06],[4.90,-0.40],[5.07,-0.49],[5.20,-0.23],[5.30,-0.37],[5.39,-0.285],[5.46,-0.34],[5.52,-0.23],[5.69,-0.39],[5.82,-0.285],[5.95,-0.48],[6.11,-0.17],[6.21,-0.285],[6.31,-0.09],[6.44,-0.31],[6.54,-0.23],[6.61,-0.285],[6.70,-0.14],[6.84,-0.40],[6.90,-0.34],[6.97,-0.46],[7.07,-0.31],[7.13,-0.40],[7.26,-0.17],[7.33,-0.23],[7.39,-0.08],[7.49,-0.255],[7.66,-0.02],[7.79,-0.23],[7.92,-0.20],[8.05,-0.37],[8.15,-0.255],[8.21,-0.31],[8.34,-0.20],[8.48,-0.285],[8.64,-0.09],[8.74,-0.285],[8.87,-0.46],[9.00,-0.21],[9.13,-0.39],[9.30,0.16],[9.39,0.07],[9.46,0.10],[9.56,-0.14],[9.66,-0.03],[9.75,-0.23],[9.82,-0.14],[9.92,-0.34],[10.05,-0.27],[10.11,-0.30],[10.21,-0.15],[10.31,-0.255],[10.38,-0.195],[10.57,-0.52]];
const wcTail201l = [[10.64,-0.40],[10.84,-0.15],[11.00,-0.54],[11.10,-0.31],[11.20,-0.40],[11.30,-0.30],[11.39,-0.49],[11.52,-0.285],[11.62,-0.40],[11.75,-0.255],[11.95,-0.79],[12.05,-0.31],[12.18,-0.49],[12.31,-0.14],[12.41,-0.31],[12.51,-0.05],[12.64,-0.43],[12.70,-0.285],[12.80,-0.67],[12.90,-0.43],[12.97,-0.55]];

const ocObs = [[1.0,-0.55],[1.08,-0.445],[1.21,-1.055],[1.34,-0.52],[1.41,-0.55],[1.54,-0.315],[1.67,-0.52],[1.77,-0.40],[1.87,-0.69],[1.97,-0.23],[2.10,-0.65],[2.20,-0.52],[2.30,-0.55],[2.36,-0.52],[2.46,-0.575],[2.62,-0.415],[2.72,-0.605],[2.82,-0.345],[2.92,-0.505],[3.15,0.23],[3.25,-0.215],[3.34,-0.20],[3.51,-0.75],[3.62,-0.04],[3.70,-0.33],[3.80,-0.155],[3.97,-0.49],[4.07,-0.375],[4.16,-0.55],[4.26,-0.33],[4.39,-0.565],[4.52,-0.17],[4.66,-0.505],[4.82,-0.27],[4.95,-0.445],[5.08,-0.535],[5.21,-0.285],[5.31,-0.345],[5.41,-0.30],[5.48,-0.36],[5.61,-0.255],[5.74,-0.375],[5.90,-0.27],[5.97,-0.315],[6.10,-0.01],[6.23,-0.255],[6.33,-0.20],[6.43,-0.315],[6.56,-0.27],[6.72,-0.155],[6.82,-0.285],[6.92,-0.27],[7.02,-0.375],[7.11,-0.33],[7.25,-0.285],[7.34,-0.315],[7.44,-0.285],[7.54,-0.345],[7.64,-0.255],[7.74,-0.17],[7.84,-0.33],[7.97,-0.20],[8.07,-0.375],[8.20,-0.315],[8.26,-0.345],[8.39,-0.23],[8.52,-0.36],[8.66,-0.11],[8.75,-0.315],[8.89,-0.375],[9.05,-0.255],[9.18,-0.315],[9.33,0.09],[9.41,-0.10],[9.51,-0.125],[9.57,-0.17],[9.67,-0.11],[9.77,-0.20],[9.87,-0.055],[9.97,-0.285],[10.07,-0.20],[10.13,-0.315],[10.26,-0.20],[10.33,-0.23],[10.39,-0.055],[10.49,-0.315],[10.59,-0.535],[10.72,-0.345],[10.89,-0.11],[11.05,-0.375],[11.15,-0.345],[11.31,-0.285],[11.44,-0.505],[11.54,-0.315],[11.67,-0.375],[11.87,-0.07],[11.97,-0.315],[12.07,-0.125],[12.16,-0.43],[12.33,-0.255],[12.52,-0.11],[12.62,-0.43],[12.72,-0.255],[12.82,-0.49],[12.92,-0.315],[12.98,-0.445]];
const ocRun202a = [[1.0,-0.635],[1.08,-0.39],[1.21,-0.955],[1.38,-0.43],[1.54,-0.285],[1.64,-0.53],[1.74,-0.33],[1.84,-0.605],[1.97,-0.155],[2.07,-0.52],[2.20,-0.40],[2.26,-0.46],[2.33,-0.445],[2.46,-0.55],[2.59,-0.49],[2.72,-0.52],[2.82,-0.36],[2.92,-0.53],[3.05,-0.27],[3.11,-0.315],[3.18,-0.155],[3.28,-0.53],[3.38,-0.285],[3.51,-0.81],[3.61,-0.05],[3.70,-0.37],[3.84,-0.125],[3.97,-0.49],[4.07,-0.245],[4.16,-0.46],[4.26,-0.345],[4.39,-0.575],[4.52,-0.05],[4.66,-0.475],[4.85,-0.11],[4.95,-0.37],[5.08,-0.505],[5.18,-0.285],[5.31,-0.40],[5.41,-0.33],[5.48,-0.36],[5.57,-0.245],[5.74,-0.40],[5.87,-0.36],[5.97,-0.52],[6.07,-0.245],[6.20,-0.37],[6.33,-0.21],[6.43,-0.36],[6.56,-0.285],[6.62,-0.315],[6.72,-0.17],[6.85,-0.43],[6.95,-0.475],[7.02,-0.43],[7.08,-0.46],[7.25,-0.315],[7.41,-0.155],[7.51,-0.255],[7.70,-0.075],[7.80,-0.23],[7.90,-0.20],[8.00,-0.345],[8.10,-0.37],[8.20,-0.33],[8.26,-0.36],[8.36,-0.23],[8.49,-0.345],[8.66,-0.10],[8.75,-0.315],[8.92,-0.46],[9.05,-0.255],[9.18,-0.40],[9.31,0.05],[9.41,-0.08],[9.51,-0.055],[9.61,-0.17],[9.70,-0.08],[9.80,-0.185],[9.87,-0.125],[9.97,-0.39],[10.07,-0.315],[10.16,-0.20],[10.26,-0.245],[10.33,-0.20],[10.46,-0.30],[10.59,-0.635]];
const ocTail201l = [[10.66,-0.505],[10.75,-0.345],[10.89,-0.125],[11.05,-0.53],[11.18,-0.37],[11.25,-0.43],[11.34,-0.345],[11.44,-0.56],[11.54,-0.37],[11.64,-0.43],[11.80,-0.255],[11.97,-0.765],[12.07,-0.315],[12.20,-0.53],[12.33,-0.285],[12.52,-0.04],[12.62,-0.575],[12.72,-0.185],[12.82,-0.735],[12.92,-0.55],[12.98,-0.635]];

const lwObs = [[1.0,-0.47],[1.07,-0.44],[1.20,-1.085],[1.33,-0.505],[1.49,-0.25],[1.62,-0.57],[1.72,-0.375],[1.85,-0.665],[1.95,-0.185],[2.05,-0.665],[2.15,-0.47],[2.25,-0.54],[2.31,-0.47],[2.44,-0.57],[2.57,-0.425],[2.67,-0.57],[2.77,-0.28],[2.84,-0.375],[3.10,0.33],[3.20,-0.28],[3.30,-0.185],[3.46,-0.78],[3.59,0.075],[3.69,-0.215],[3.79,-0.12],[3.89,-0.425],[4.02,-0.28],[4.11,-0.54],[4.21,-0.28],[4.34,-0.57],[4.48,-0.085],[4.61,-0.505],[4.77,-0.215],[4.90,-0.41],[5.07,-0.505],[5.20,-0.25],[5.30,-0.31],[5.39,-0.25],[5.46,-0.31],[5.56,-0.185],[5.72,-0.375],[5.85,-0.20],[5.92,-0.25],[6.08,0.075],[6.21,-0.28],[6.31,-0.215],[6.44,-0.33],[6.54,-0.28],[6.70,-0.10],[6.80,-0.28],[6.87,-0.25],[6.97,-0.31],[7.10,-0.28],[7.16,-0.31],[7.30,-0.25],[7.39,-0.28],[7.49,-0.185],[7.56,-0.25],[7.66,-0.15],[7.82,-0.28],[7.92,-0.25],[8.05,-0.375],[8.15,-0.31],[8.21,-0.345],[8.34,-0.185],[8.48,-0.345],[8.64,-0.055],[8.74,-0.25],[8.90,-0.345],[9.03,-0.215],[9.16,-0.345],[9.30,0.235],[9.39,-0.085],[9.49,-0.02],[9.59,-0.185],[9.69,-0.02],[9.75,-0.15],[9.82,0.04],[9.95,-0.215],[10.05,-0.085],[10.15,-0.215],[10.21,-0.04],[10.31,-0.215],[10.38,0.01],[10.48,-0.25],[10.57,-0.54],[10.67,-0.375],[10.84,-0.055],[11.00,-0.41],[11.10,-0.345],[11.20,-0.41],[11.30,-0.31],[11.39,-0.47],[11.52,-0.28],[11.66,-0.375],[11.85,-0.005],[11.95,-0.31],[12.08,-0.215],[12.18,-0.345],[12.31,-0.185],[12.41,-0.31],[12.51,-0.02],[12.64,-0.345],[12.70,-0.28],[12.80,-0.505],[12.90,-0.28],[12.97,-0.375]];
const lwRun202a = [[1.0,-0.505],[1.07,-0.39],[1.20,-1.10],[1.33,-0.49],[1.39,-0.44],[1.49,-0.265],[1.62,-0.585],[1.72,-0.31],[1.85,-0.635],[1.95,-0.12],[2.05,-0.57],[2.15,-0.41],[2.25,-0.49],[2.31,-0.425],[2.44,-0.54],[2.57,-0.455],[2.67,-0.52],[2.77,-0.375],[2.84,-0.44],[2.90,-0.345],[3.00,-0.505],[3.13,-0.12],[3.23,-0.555],[3.33,-0.215],[3.46,-0.875],[3.62,0.025],[3.72,-0.28],[3.82,-0.055],[3.92,-0.41],[4.02,-0.215],[4.15,-0.505],[4.25,-0.23],[4.34,-0.585],[4.48,0.01],[4.61,-0.49],[4.80,-0.07],[4.90,-0.375],[5.07,-0.505],[5.20,-0.25],[5.30,-0.375],[5.39,-0.28],[5.46,-0.375],[5.56,-0.23],[5.72,-0.41],[5.82,-0.31],[5.95,-0.54],[6.11,-0.185],[6.21,-0.33],[6.34,-0.17],[6.44,-0.345],[6.54,-0.25],[6.61,-0.345],[6.70,-0.12],[6.84,-0.47],[6.90,-0.425],[6.97,-0.47],[7.07,-0.425],[7.13,-0.455],[7.26,-0.265],[7.43,-0.135],[7.52,-0.25],[7.69,-0.04],[7.82,-0.215],[7.95,-0.215],[8.05,-0.345],[8.15,-0.31],[8.21,-0.345],[8.34,-0.20],[8.48,-0.345],[8.64,-0.02],[8.74,-0.28],[8.90,-0.47],[9.03,-0.25],[9.16,-0.41],[9.33,0.105],[9.39,-0.055],[9.49,-0.02],[9.59,-0.15],[9.69,-0.055],[9.75,-0.185],[9.82,-0.10],[9.95,-0.375],[10.05,-0.31],[10.15,-0.185],[10.25,-0.28],[10.31,-0.215],[10.44,-0.31],[10.57,-0.68]];
const lwTail201l = [[10.64,-0.47],[10.77,-0.345],[10.87,-0.135],[11.03,-0.555],[11.16,-0.375],[11.23,-0.425],[11.33,-0.345],[11.39,-0.57],[11.52,-0.375],[11.62,-0.425],[11.82,-0.185],[11.95,-0.86],[12.05,-0.28],[12.18,-0.54],[12.31,-0.25],[12.51,0.025],[12.61,-0.585],[12.70,-0.215],[12.80,-0.76],[12.90,-0.47],[12.97,-0.635]];

const cmObs = [[1.0,-0.58],[1.08,-0.46],[1.21,-1.06],[1.34,-0.52],[1.51,-0.28],[1.64,-0.52],[1.74,-0.40],[1.84,-0.685],[1.93,-0.22],[2.07,-0.67],[2.16,-0.52],[2.26,-0.55],[2.36,-0.49],[2.46,-0.58],[2.59,-0.43],[2.69,-0.595],[2.82,-0.34],[2.92,-0.52],[3.11,0.255],[3.21,-0.22],[3.34,-0.16],[3.48,-0.73],[3.61,-0.01],[3.70,-0.34],[3.80,-0.16],[3.97,-0.52],[4.07,-0.34],[4.16,-0.55],[4.26,-0.31],[4.39,-0.55],[4.52,-0.13],[4.66,-0.505],[4.82,-0.25],[4.95,-0.46],[5.08,-0.535],[5.21,-0.31],[5.31,-0.37],[5.41,-0.31],[5.48,-0.37],[5.57,-0.265],[5.74,-0.385],[5.90,-0.265],[5.97,-0.31],[6.10,-0.01],[6.23,-0.28],[6.33,-0.22],[6.43,-0.34],[6.56,-0.28],[6.69,-0.145],[6.79,-0.31],[6.89,-0.28],[7.02,-0.385],[7.11,-0.34],[7.25,-0.28],[7.34,-0.31],[7.44,-0.25],[7.54,-0.325],[7.64,-0.25],[7.74,-0.175],[7.84,-0.31],[7.97,-0.205],[8.07,-0.37],[8.20,-0.31],[8.26,-0.34],[8.39,-0.235],[8.52,-0.355],[8.66,-0.115],[8.75,-0.31],[8.89,-0.355],[9.05,-0.19],[9.18,-0.31],[9.31,0.12],[9.41,-0.10],[9.51,-0.115],[9.57,-0.16],[9.67,-0.10],[9.77,-0.205],[9.87,-0.04],[9.97,-0.31],[10.07,-0.19],[10.13,-0.31],[10.26,-0.19],[10.33,-0.22],[10.39,-0.07],[10.49,-0.325],[10.59,-0.55],[10.72,-0.34],[10.89,-0.07],[11.05,-0.37],[11.21,-0.265],[11.44,-0.505],[11.54,-0.31],[11.67,-0.40],[11.84,-0.04],[11.97,-0.31],[12.07,-0.145],[12.16,-0.43],[12.33,-0.25],[12.49,-0.07],[12.62,-0.43],[12.72,-0.25],[12.82,-0.52],[12.92,-0.31],[12.98,-0.52]];
const cmRun202a = [[1.0,-0.715],[1.08,-0.43],[1.21,-1.075],[1.34,-0.445],[1.51,-0.295],[1.64,-0.595],[1.74,-0.31],[1.84,-0.61],[1.93,-0.16],[2.03,-0.55],[2.16,-0.415],[2.23,-0.49],[2.30,-0.43],[2.43,-0.565],[2.59,-0.49],[2.72,-0.55],[2.82,-0.37],[2.92,-0.565],[3.02,-0.28],[3.08,-0.34],[3.18,-0.13],[3.28,-0.58],[3.38,-0.31],[3.48,-0.85],[3.61,-0.04],[3.70,-0.40],[3.84,-0.10],[3.93,-0.43],[4.03,-0.25],[4.13,-0.49],[4.23,-0.37],[4.36,-0.565],[4.49,-0.04],[4.62,-0.535],[4.82,-0.115],[4.92,-0.43],[5.08,-0.475],[5.18,-0.28],[5.31,-0.40],[5.41,-0.355],[5.48,-0.43],[5.57,-0.265],[5.74,-0.43],[5.87,-0.37],[5.97,-0.565],[6.07,-0.265],[6.20,-0.385],[6.30,-0.22],[6.43,-0.37],[6.56,-0.28],[6.62,-0.34],[6.72,-0.16],[6.85,-0.49],[6.95,-0.49],[7.02,-0.43],[7.08,-0.49],[7.25,-0.34],[7.38,-0.175],[7.51,-0.295],[7.67,-0.055],[7.77,-0.25],[7.87,-0.235],[7.97,-0.34],[8.10,-0.355],[8.20,-0.31],[8.26,-0.355],[8.36,-0.235],[8.49,-0.355],[8.62,-0.07],[8.75,-0.34],[8.89,-0.49],[9.02,-0.265],[9.18,-0.415],[9.31,0.035],[9.41,-0.13],[9.51,-0.07],[9.61,-0.145],[9.70,-0.10],[9.80,-0.175],[9.87,-0.13],[9.97,-0.43],[10.07,-0.31],[10.16,-0.22],[10.26,-0.28],[10.33,-0.25],[10.46,-0.325],[10.57,-0.715]];
const cmTail201l = [[10.66,-0.55],[10.75,-0.31],[10.89,-0.13],[11.05,-0.535],[11.18,-0.37],[11.28,-0.43],[11.34,-0.37],[11.44,-0.58],[11.54,-0.37],[11.67,-0.43],[11.80,-0.28],[11.97,-0.805],[12.07,-0.31],[12.20,-0.55],[12.33,-0.28],[12.49,-0.04],[12.62,-0.61],[12.72,-0.175],[12.82,-0.79],[12.92,-0.55],[12.98,-0.67]];

const acObs = [[1.0,-0.45],[1.16,-1.075],[1.33,-0.48],[1.49,-0.23],[1.62,-0.575],[1.72,-0.39],[1.85,-0.655],[1.95,-0.17],[2.05,-0.655],[2.15,-0.48],[2.25,-0.545],[2.31,-0.48],[2.44,-0.575],[2.57,-0.39],[2.67,-0.575],[2.77,-0.295],[2.84,-0.39],[3.10,0.30],[3.20,-0.295],[3.30,-0.20],[3.46,-0.745],[3.59,0.0],[3.69,-0.23],[3.79,-0.105],[3.89,-0.42],[4.02,-0.295],[4.11,-0.51],[4.21,-0.295],[4.34,-0.545],[4.48,-0.075],[4.61,-0.51],[4.77,-0.20],[4.90,-0.39],[5.07,-0.495],[5.20,-0.26],[5.30,-0.325],[5.39,-0.26],[5.46,-0.325],[5.56,-0.185],[5.72,-0.355],[5.85,-0.215],[5.92,-0.26],[6.08,0.05],[6.21,-0.295],[6.31,-0.215],[6.44,-0.325],[6.54,-0.28],[6.70,-0.12],[6.80,-0.295],[6.87,-0.26],[6.97,-0.325],[7.10,-0.295],[7.16,-0.355],[7.30,-0.26],[7.39,-0.295],[7.49,-0.20],[7.56,-0.26],[7.66,-0.17],[7.82,-0.295],[7.92,-0.26],[8.05,-0.39],[8.15,-0.325],[8.21,-0.355],[8.34,-0.20],[8.48,-0.32],[8.64,-0.06],[8.74,-0.26],[8.90,-0.325],[9.03,-0.20],[9.16,-0.325],[9.30,-0.0125],[9.39,-0.105],[9.49,-0.075],[9.59,-0.17],[9.69,-0.075],[9.75,-0.14],[9.82,-0.045],[9.95,-0.20],[10.05,-0.105],[10.15,-0.20],[10.21,-0.105],[10.31,-0.20],[10.38,-0.075],[10.48,-0.295],[10.57,-0.545],[10.67,-0.39],[10.84,-0.105],[11.00,-0.42],[11.10,-0.325],[11.20,-0.42],[11.30,-0.325],[11.39,-0.48],[11.52,-0.295],[11.66,-0.39],[11.82,-0.0125],[11.95,-0.325],[12.08,-0.20],[12.18,-0.355],[12.31,-0.20],[12.41,-0.325],[12.51,-0.105],[12.64,-0.355],[12.70,-0.295],[12.80,-0.51],[12.90,-0.295],[12.97,-0.48]];
const acRun202a = [[1.0,-0.51],[1.05,-0.39],[1.16,-1.09],[1.33,-0.45],[1.49,-0.23],[1.62,-0.575],[1.72,-0.295],[1.82,-0.64],[1.93,-0.12],[2.05,-0.575],[2.15,-0.405],[2.25,-0.48],[2.31,-0.42],[2.44,-0.545],[2.57,-0.48],[2.67,-0.545],[2.77,-0.39],[2.84,-0.45],[2.90,-0.355],[3.00,-0.42],[3.10,-0.105],[3.23,-0.545],[3.33,-0.23],[3.46,-0.855],[3.62,-0.0125],[3.72,-0.295],[3.82,-0.075],[3.92,-0.42],[4.02,-0.23],[4.15,-0.51],[4.25,-0.26],[4.34,-0.575],[4.48,-0.0125],[4.61,-0.51],[4.80,-0.105],[4.90,-0.355],[5.07,-0.495],[5.20,-0.295],[5.30,-0.355],[5.39,-0.295],[5.46,-0.39],[5.56,-0.26],[5.72,-0.42],[5.82,-0.325],[5.95,-0.545],[6.11,-0.23],[6.21,-0.355],[6.34,-0.23],[6.44,-0.355],[6.54,-0.26],[6.61,-0.37],[6.70,-0.17],[6.84,-0.48],[6.90,-0.435],[6.97,-0.48],[7.07,-0.42],[7.13,-0.465],[7.26,-0.295],[7.36,-0.17],[7.52,-0.295],[7.69,-0.06],[7.82,-0.23],[7.95,-0.23],[8.05,-0.355],[8.15,-0.31],[8.21,-0.355],[8.34,-0.20],[8.48,-0.34],[8.64,-0.045],[8.74,-0.26],[8.90,-0.45],[9.03,-0.26],[9.16,-0.355],[9.33,0.0],[9.43,-0.14],[9.52,-0.075],[9.59,-0.15],[9.69,-0.075],[9.75,-0.20],[9.82,-0.14],[9.95,-0.39],[10.05,-0.325],[10.15,-0.20],[10.25,-0.295],[10.31,-0.23],[10.44,-0.34],[10.54,-0.73]];
const acTail201l = [[10.64,-0.51],[10.77,-0.295],[10.87,-0.105],[11.03,-0.53],[11.16,-0.39],[11.23,-0.48],[11.33,-0.355],[11.39,-0.575],[11.52,-0.355],[11.62,-0.45],[11.82,-0.14],[11.95,-0.795],[12.05,-0.295],[12.18,-0.51],[12.31,-0.26],[12.48,-0.0125],[12.61,-0.605],[12.70,-0.295],[12.80,-0.76],[12.90,-0.51],[12.97,-0.64]];

const shObs = [[1.0,-0.51],[1.08,-0.45],[1.21,-1.04],[1.34,-0.54],[1.51,-0.245],[1.64,-0.465],[1.74,-0.34],[1.87,-0.635],[1.97,-0.165],[2.10,-0.635],[2.20,-0.45],[2.30,-0.48],[2.36,-0.42],[2.43,-0.51],[2.59,-0.355],[2.72,-0.51],[2.82,-0.26],[2.92,-0.415],[3.15,0.295],[3.25,-0.48],[3.34,-0.20],[3.48,-0.70],[3.61,-0.06],[3.70,-0.29],[3.80,-0.135],[3.97,-0.415],[4.07,-0.325],[4.16,-0.48],[4.26,-0.29],[4.36,-0.45],[4.49,-0.01],[4.62,-0.45],[4.82,-0.26],[4.95,-0.355],[5.08,-0.37],[5.21,-0.29],[5.31,-0.325],[5.44,-0.275],[5.51,-0.31],[5.57,-0.20],[5.74,-0.325],[5.90,-0.20],[5.97,-0.245],[6.10,0.035],[6.23,-0.26],[6.33,-0.23],[6.43,-0.29],[6.56,-0.26],[6.69,-0.135],[6.79,-0.23],[6.89,-0.23],[7.02,-0.325],[7.11,-0.325],[7.18,-0.355],[7.31,-0.23],[7.44,-0.15],[7.54,-0.23],[7.64,-0.165],[7.74,-0.09],[7.84,-0.23],[7.97,-0.165],[8.07,-0.29],[8.20,-0.23],[8.26,-0.26],[8.39,-0.15],[8.52,-0.23],[8.66,-0.07],[8.75,-0.29],[8.89,-0.325],[9.05,-0.135],[9.18,-0.23],[9.31,0.08],[9.41,-0.135],[9.51,-0.135],[9.57,-0.20],[9.67,-0.01],[9.77,-0.165],[9.87,0.005],[9.97,-0.20],[10.07,-0.135],[10.13,-0.23],[10.26,-0.12],[10.33,-0.165],[10.39,-0.04],[10.49,-0.29],[10.59,-0.51],[10.72,-0.355],[10.89,-0.04],[11.05,-0.29],[11.18,-0.26],[11.28,-0.23],[11.44,-0.45],[11.54,-0.29],[11.67,-0.355],[11.87,0.08],[11.97,-0.23],[12.07,-0.025],[12.16,-0.415],[12.33,-0.20],[12.49,-0.04],[12.62,-0.355],[12.72,-0.20],[12.82,-0.385],[12.92,-0.20],[12.98,-0.29]];
const shRun202a = [[1.0,-0.605],[1.08,-0.40],[1.21,-1.10],[1.34,-0.40],[1.51,-0.26],[1.64,-0.56],[1.74,-0.26],[1.87,-0.54],[1.97,-0.12],[2.07,-0.51],[2.20,-0.37],[2.26,-0.48],[2.33,-0.37],[2.43,-0.53],[2.52,-0.43],[2.66,-0.48],[2.72,-0.43],[2.79,-0.51],[2.85,-0.29],[2.92,-0.48],[3.02,-0.04],[3.11,-0.26],[3.18,-0.04],[3.28,-0.56],[3.38,-0.23],[3.48,-0.79],[3.61,-0.07],[3.74,-0.34],[3.84,-0.07],[3.93,-0.355],[4.03,-0.215],[4.13,-0.45],[4.23,-0.34],[4.33,-0.465],[4.49,0.09],[4.62,-0.48],[4.82,-0.06],[4.92,-0.325],[5.08,-0.385],[5.18,-0.29],[5.28,-0.325],[5.41,-0.29],[5.51,-0.355],[5.57,-0.26],[5.67,-0.355],[5.77,-0.325],[5.97,-0.51],[6.07,-0.23],[6.20,-0.34],[6.33,-0.23],[6.43,-0.325],[6.56,-0.26],[6.72,-0.23],[6.85,-0.43],[6.95,-0.40],[7.08,-0.43],[7.25,-0.26],[7.38,-0.135],[7.51,-0.23],[7.70,-0.025],[7.80,-0.165],[7.90,-0.18],[8.03,-0.26],[8.13,-0.275],[8.23,-0.23],[8.30,-0.26],[8.39,-0.105],[8.52,-0.23],[8.66,-0.04],[8.75,-0.29],[8.92,-0.385],[9.05,-0.23],[9.21,-0.355],[9.34,-0.01],[9.44,-0.165],[9.54,-0.135],[9.61,-0.165],[9.70,-0.105],[9.80,-0.325],[9.87,-0.20],[9.97,-0.385],[10.07,-0.26],[10.16,-0.135],[10.26,-0.26],[10.33,-0.20],[10.46,-0.325],[10.59,-0.73]];
const shTail201l = [[10.66,-0.54],[10.75,-0.29],[10.89,-0.07],[11.05,-0.495],[11.18,-0.355],[11.25,-0.415],[11.34,-0.325],[11.44,-0.54],[11.54,-0.355],[11.64,-0.415],[11.80,-0.23],[11.97,-0.715],[12.07,-0.29],[12.20,-0.48],[12.33,-0.26],[12.49,0.0],[12.62,-0.575],[12.72,-0.04],[12.82,-0.745],[12.92,-0.385],[12.98,-0.51]];

const mtObs = [[1.0,-0.385],[1.07,-0.32],[1.20,-0.855],[1.33,-0.44],[1.49,-0.27],[1.62,-0.41],[1.72,-0.31],[1.85,-0.595],[1.95,-0.125],[2.05,-0.555],[2.15,-0.385],[2.25,-0.49],[2.31,-0.41],[2.44,-0.515],[2.57,-0.36],[2.67,-0.555],[2.77,-0.31],[2.84,-0.385],[3.03,0.285],[3.10,0.19],[3.16,0.20],[3.26,-0.31],[3.33,-0.205],[3.46,-0.595],[3.59,-0.15],[3.69,-0.255],[3.79,-0.165],[3.89,-0.385],[4.02,-0.335],[4.11,-0.44],[4.21,-0.335],[4.34,-0.41],[4.48,-0.125],[4.61,-0.44],[4.77,-0.18],[4.90,-0.335],[5.07,-0.36],[5.20,-0.32],[5.30,-0.335],[5.39,-0.31],[5.46,-0.335],[5.56,-0.27],[5.72,-0.31],[5.85,-0.245],[5.92,-0.28],[6.08,-0.02],[6.21,-0.31],[6.31,-0.28],[6.44,-0.31],[6.54,-0.27],[6.70,-0.18],[6.80,-0.28],[6.87,-0.255],[6.97,-0.28],[7.10,-0.255],[7.20,-0.36],[7.30,-0.255],[7.39,-0.28],[7.49,-0.23],[7.56,-0.27],[7.66,-0.215],[7.82,-0.28],[7.92,-0.245],[8.05,-0.28],[8.15,-0.245],[8.21,-0.255],[8.34,-0.165],[8.48,-0.24],[8.64,-0.10],[8.74,-0.255],[8.90,-0.28],[9.03,-0.255],[9.16,-0.28],[9.30,-0.06],[9.39,-0.205],[9.49,-0.15],[9.59,-0.23],[9.66,-0.05],[9.75,-0.205],[9.82,-0.125],[9.95,-0.28],[10.05,-0.18],[10.15,-0.255],[10.21,-0.14],[10.31,-0.255],[10.38,-0.05],[10.48,-0.28],[10.57,-0.465],[10.67,-0.335],[10.87,-0.075],[11.00,-0.385],[11.10,-0.28],[11.20,-0.335],[11.30,-0.28],[11.39,-0.49],[11.52,-0.31],[11.66,-0.335],[11.85,0.075],[11.95,-0.28],[12.08,-0.205],[12.18,-0.36],[12.31,-0.255],[12.41,-0.335],[12.51,-0.205],[12.64,-0.36],[12.70,-0.255],[12.80,-0.49],[12.90,-0.255],[12.97,-0.44]];
const mtRun202a = [[1.0,-0.49],[1.07,-0.27],[1.20,-0.87],[1.33,-0.36],[1.49,-0.27],[1.62,-0.45],[1.72,-0.215],[1.82,-0.54],[1.93,-0.105],[2.05,-0.49],[2.15,-0.32],[2.25,-0.44],[2.31,-0.345],[2.44,-0.465],[2.54,-0.41],[2.67,-0.50],[2.77,-0.385],[2.84,-0.465],[2.98,-0.01],[3.07,-0.125],[3.16,-0.05],[3.26,-0.49],[3.36,-0.15],[3.46,-0.67],[3.62,-0.10],[3.72,-0.28],[3.82,-0.10],[3.92,-0.36],[4.02,-0.23],[4.15,-0.40],[4.25,-0.375],[4.34,-0.43],[4.48,-0.035],[4.61,-0.44],[4.80,-0.11],[4.90,-0.31],[5.07,-0.385],[5.20,-0.32],[5.30,-0.36],[5.39,-0.335],[5.46,-0.40],[5.56,-0.335],[5.72,-0.385],[5.82,-0.335],[5.95,-0.555],[6.11,-0.28],[6.21,-0.37],[6.34,-0.31],[6.44,-0.31],[6.54,-0.28],[6.61,-0.31],[6.70,-0.28],[6.84,-0.475],[6.90,-0.41],[6.97,-0.41],[7.13,-0.44],[7.26,-0.205],[7.36,-0.165],[7.52,-0.23],[7.69,-0.165],[7.82,-0.255],[7.95,-0.23],[8.05,-0.27],[8.15,-0.245],[8.24,-0.27],[8.34,-0.165],[8.48,-0.24],[8.64,-0.10],[8.74,-0.32],[8.90,-0.37],[9.03,-0.345],[9.16,-0.37],[9.33,-0.15],[9.43,-0.23],[9.52,-0.19],[9.59,-0.23],[9.69,-0.165],[9.75,-0.36],[9.82,-0.31],[9.95,-0.425],[10.05,-0.28],[10.15,-0.24],[10.25,-0.335],[10.31,-0.28],[10.44,-0.36],[10.57,-0.62]];
const mtTail201l = [[10.64,-0.465],[10.77,-0.31],[10.87,-0.075],[11.03,-0.44],[11.13,-0.295],[11.23,-0.385],[11.33,-0.31],[11.39,-0.49],[11.52,-0.32],[11.62,-0.385],[11.82,-0.10],[11.95,-0.67],[12.05,-0.28],[12.18,-0.465],[12.31,-0.31],[12.51,-0.11],[12.61,-0.54],[12.70,-0.255],[12.80,-0.70],[12.90,-0.44],[12.97,-0.515]];

const npObs = [[1.0,-0.55],[1.08,-0.39],[1.21,-0.84],[1.35,-0.46],[1.40,-0.48],[1.55,-0.31],[1.65,-0.41],[1.75,-0.36],[1.86,-0.62],[1.96,-0.235],[2.10,-0.55],[2.17,-0.44],[2.24,-0.51],[2.33,-0.44],[2.43,-0.58],[2.53,-0.39],[2.61,-0.47],[2.72,-0.60],[2.83,-0.40],[2.90,-0.49],[3.04,0.03],[3.10,0.01],[3.15,0.015],[3.27,-0.48],[3.36,-0.19],[3.49,-0.53],[3.64,-0.15],[3.75,-0.33],[3.86,-0.19],[3.96,-0.445],[4.06,-0.31],[4.14,-0.395],[4.24,-0.35],[4.33,-0.40],[4.48,-0.19],[4.67,-0.48],[4.82,-0.275],[4.96,-0.395],[5.03,-0.39],[5.11,-0.40],[5.27,-0.37],[5.36,-0.37],[5.51,-0.34],[5.59,-0.39],[5.70,-0.35],[5.81,-0.35],[5.93,-0.325],[6.01,-0.35],[6.11,-0.09],[6.25,-0.34],[6.36,-0.35],[6.46,-0.335],[6.58,-0.37],[6.68,-0.26],[6.80,-0.315],[6.92,-0.30],[7.15,-0.44],[7.29,-0.335],[7.38,-0.37],[7.48,-0.265],[7.58,-0.30],[7.66,-0.31],[7.76,-0.36],[7.83,-0.32],[7.93,-0.36],[8.03,-0.33],[8.14,-0.33],[8.32,-0.21],[8.51,-0.26],[8.64,-0.16],[8.80,-0.31],[8.94,-0.255],[9.06,-0.29],[9.19,-0.31],[9.31,-0.14],[9.44,-0.265],[9.52,-0.21],[9.56,-0.24],[9.62,-0.10],[9.70,-0.27],[9.83,-0.16],[9.93,-0.29],[10.05,-0.23],[10.09,-0.24],[10.16,-0.18],[10.24,-0.295],[10.36,-0.07],[10.46,-0.315],[10.56,-0.45],[10.68,-0.24],[10.76,-0.40],[10.88,-0.13],[10.98,-0.28],[11.04,-0.225],[11.12,-0.43],[11.22,-0.265],[11.41,-0.475],[11.61,-0.23],[11.73,-0.49],[11.86,0.045],[11.95,-0.25],[12.05,-0.135],[12.24,-0.42],[12.36,-0.30],[12.42,-0.39],[12.50,-0.225],[12.60,-0.37],[12.69,-0.185],[12.79,-0.52],[12.90,-0.26],[12.98,-0.54]];
const npRun202a = [[1.0,-0.62],[1.09,-0.31],[1.20,-0.81],[1.39,-0.34],[1.47,-0.35],[1.55,-0.31],[1.65,-0.47],[1.74,-0.24],[1.83,-0.53],[1.96,-0.15],[2.06,-0.45],[2.16,-0.32],[2.24,-0.43],[2.33,-0.36],[2.43,-0.50],[2.52,-0.39],[2.59,-0.44],[2.66,-0.42],[2.74,-0.51],[2.84,-0.35],[2.92,-0.45],[3.01,-0.115],[3.09,-0.34],[3.17,-0.08],[3.27,-0.48],[3.36,-0.21],[3.49,-0.65],[3.64,-0.15],[3.75,-0.37],[3.84,-0.13],[3.93,-0.39],[4.02,-0.24],[4.14,-0.39],[4.21,-0.41],[4.33,-0.42],[4.49,-0.075],[4.64,-0.44],[4.82,-0.13],[4.95,-0.31],[5.11,-0.37],[5.22,-0.335],[5.36,-0.40],[5.46,-0.36],[5.57,-0.40],[5.81,-0.35],[5.96,-0.55],[6.12,-0.31],[6.23,-0.385],[6.36,-0.30],[6.41,-0.30],[6.49,-0.285],[6.59,-0.335],[6.68,-0.305],[6.82,-0.48],[6.94,-0.41],[7.02,-0.42],[7.08,-0.42],[7.15,-0.45],[7.32,-0.18],[7.37,-0.19],[7.46,-0.175],[7.57,-0.28],[7.66,-0.195],[7.75,-0.225],[7.83,-0.19],[7.93,-0.255],[8.01,-0.22],[8.12,-0.28],[8.22,-0.28],[8.36,-0.20],[8.48,-0.195],[8.53,-0.21],[8.64,-0.14],[8.78,-0.345],[8.85,-0.34],[8.92,-0.375],[9.00,-0.33],[9.08,-0.36],[9.15,-0.345],[9.23,-0.39],[9.35,-0.175],[9.46,-0.25],[9.54,-0.195],[9.64,-0.195],[9.76,-0.415],[9.85,-0.28],[9.95,-0.445],[10.12,-0.255],[10.23,-0.39],[10.34,-0.255],[10.40,-0.315],[10.46,-0.26],[10.56,-0.62]];
const npTail201l = [[10.58,-0.515],[10.68,-0.225],[10.76,-0.51],[10.88,-0.15],[10.98,-0.45],[11.04,-0.39],[11.12,-0.49],[11.22,-0.365],[11.41,-0.52],[11.61,-0.29],[11.73,-0.685],[11.86,-0.12],[11.95,-0.57],[12.05,-0.29],[12.24,-0.48],[12.36,-0.355],[12.42,-0.38],[12.50,-0.17],[12.59,-0.57],[12.69,-0.12],[12.80,-0.71],[12.87,-0.48],[12.97,-0.55]];

// ---- panel meta ----
const stations = ["Fort_Pulaski(8670870)", "Charleston(8665530)", "Oyster_Landing(8662245)", "Springmaid_Pier(8661070)",
  "Wrightsville_Beach(8658163)", "Beaufort(8656483)", "USGS_Station_Hatteras(8654467)", "Oregon_Inlet_Marina(8652587)",
  "Duck(8651370)", "Cape_Henry(8638999)", "Kiptopeke(8632200)", "Wachapreague(8631044)",
  "Ocean_City_Inlet(8570283)", "Lewes(8557380)", "Cape_May(8536110)", "Atlantic_City(8534720)",
  "Sandy_Hook(8531680)", "Montauk(8510560)", "Newport(8452660)"];
const yLimits = [[-0.85,0.36],[-0.70,0.30],[-0.54,0.44],[-0.70,0.46],[-0.685,0.91],[-0.668,0.61],[-0.618,0.266],[-0.724,0.433],
  [-0.954,0.205],[-0.626,0.549],[-1.043,0.264],[-1.01,0.435],[-1.122,0.299],[-1.174,0.40],[-1.14,0.323],[-1.163,0.363],
  [-1.167,0.361],[-0.93,0.34],[-0.887,0.088]];
const yTickRanges = [[-0.8,0.2,0.2],[-0.6,0.2,0.2],[-0.4,0.4,0.2],[-0.6,0.4,0.2],[-0.6,0.8,0.2],[-0.6,0.6,0.2],[-0.6,0.2,0.1],[-0.6,0.4,0.2],
  [-0.8,0.2,0.2],[-0.6,0.4,0.2],[-1.0,0.2,0.2],[-1.0,0.4,0.2],[-1.0,0.2,0.2],[-1.0,0.2,0.2],[-1.0,0.2,0.2],[-1.0,0.2,0.2],
  [-1.0,0.2,0.2],[-0.8,0.2,0.2],[-0.8,0.0,0.2]];
const xTickValues = [1,2,3,4,5,6,7,8,9,10,11,12];
const xLimits = [1, 12.99];

const obsSeries = [fpObs, chObs, olObs, spObs, wbObs, bfObs, htObs, oiObs, dkObs, null, kpObs, wcObs, ocObs, lwObs, cmObs, acObs, shObs, mtObs, npObs];
const run202aSeries = [fpRun202a, chRun202a, olRun202a, spRun202a, wbRun202a, bfRun202a, htRun202a, oiRun202a, dkRun202a, cpRun202a, kpRun202a, wcRun202a, ocRun202a, lwRun202a, cmRun202a, acRun202a, shRun202a, mtRun202a, npRun202a];
const run201lTails = [fpTail201l, chTail201l, olTail201l, spTail201l, wbTail201l, bfTail201l, htTail201l, oiTail201l, dkTail201l, cpTail201l, kpTail201l, wcTail201l, ocTail201l, lwTail201l, cmTail201l, acTail201l, shTail201l, mtTail201l, npTail201l];

// ---- drawing ----
const svg = d3.select("#chart");
const plotW = 1205, plotH = 329;
const colLeft = c => 79 + c * 1284.5;
const rowTop = r => 37 + r * 386.7;
const fmt = d3.format(".1f");

const COLORS = { obs: "#ff0000", r201: "#008000", r202: "#0000ff" };
const DASH = { obs: "13,3.4,2.1,3.4", r201: "3.5,1.6" };

stations.forEach((name, i) => {
  const col = i % 4, row = Math.floor(i / 4);
  const g = svg.append("g").attr("transform", `translate(${colLeft(col)},${rowTop(row)})`);

  const x = d3.scaleLinear().domain(xLimits).range([0, plotW]);
  const y = d3.scaleLinear().domain(yLimits[i]).range([plotH, 0]);

  const clipId = "clip" + i;
  g.append("clipPath").attr("id", clipId)
    .append("rect").attr("width", plotW).attr("height", plotH);

  const line = d3.line()
    .x(d => x(d[0]))
    .y(d => y(d[1]))
    .curve(d3.curveMonotoneX);

  const lines = g.append("g").attr("clip-path", `url(#${clipId})`);

  if (obsSeries[i]) {
    lines.append("path").datum(obsSeries[i])
      .attr("d", line).attr("fill", "none")
      .attr("stroke", COLORS.obs).attr("stroke-width", 2.1)
      .attr("stroke-dasharray", DASH.obs);
  }
  // RUN201l follows RUN202a until the latter stops, then carries on alone
  const run201l = run202aSeries[i].slice(0, -1).concat(run201lTails[i]);
  lines.append("path").datum(run201l)
    .attr("d", line).attr("fill", "none")
    .attr("stroke", COLORS.r201).attr("stroke-width", 0.9)
    .attr("stroke-dasharray", DASH.r201);
  lines.append("path").datum(run202aSeries[i])
    .attr("d", line).attr("fill", "none")
    .attr("stroke", COLORS.r202).attr("stroke-width", 1.0);

  // axes
  const [t0, t1, step] = yTickRanges[i];
  const yTicks = d3.range(Math.round(t0 / step), Math.round(t1 / step) + 1).map(k => +(k * step).toFixed(2));

  const xAxis = g.append("g").attr("transform", `translate(0,${plotH})`)
    .call(d3.axisBottom(x).tickValues(xTickValues).tickFormat(d3.format("d")).tickSize(4.9).tickPadding(4.2));
  const yAxis = g.append("g")
    .call(d3.axisLeft(y).tickValues(yTicks).tickFormat(fmt).tickSize(4.9).tickPadding(4.2));

  [xAxis, yAxis].forEach(a => {
    a.select(".domain").remove();
    a.attr("font-family", "DejaVu Sans").attr("font-size", 13.9);
    a.selectAll(".tick line").attr("stroke", "#000").attr("stroke-width", 1.1);
    a.selectAll(".tick text").attr("fill", "#000");
  });

  g.append("rect").attr("width", plotW).attr("height", plotH)
    .attr("fill", "none").attr("stroke", "#000").attr("stroke-width", 1.1);

  g.append("text")
    .attr("x", plotW / 2).attr("y", -9)
    .attr("text-anchor", "middle")
    .attr("font-size", 16.7)
    .text(`station:${name} (datum:xGEOID)`);

  g.append("text")
    .attr("transform", `translate(-52,${plotH / 2}) rotate(-90)`)
    .attr("text-anchor", "middle")
    .attr("font-size", 13.9)
    .text("Elevation (m)");

  // legend only on the first panel
  if (i === 0) {
    const legendItems = [
      { label: "Obs", color: COLORS.obs, width: 2.1, dash: DASH.obs },
      { label: "RUN201l", color: COLORS.r201, width: 0.9, dash: DASH.r201 },
      { label: "RUN202a", color: COLORS.r202, width: 1.0, dash: null }
    ];
    const boxW = 114, boxH = 67;
    const lg = g.append("g").attr("transform", `translate(${plotW - 7 - boxW},7)`);
    lg.append("rect").attr("width", boxW).attr("height", boxH).attr("rx", 3)
      .attr("fill", "#fff").attr("fill-opacity", 0.8)
      .attr("stroke", "#cccccc").attr("stroke-width", 1);
    legendItems.forEach((it, k) => {
      const cy = 12 + k * 21;
      lg.append("line").attr("x1", 4).attr("x2", 32).attr("y1", cy).attr("y2", cy)
        .attr("stroke", it.color).attr("stroke-width", it.width)
        .attr("stroke-dasharray", it.dash);
      lg.append("text").attr("x", 45).attr("y", cy).attr("dy", "0.35em")
        .attr("font-size", 13.9).text(it.label);
    });
  }
});
</script>
</body>
</html>
